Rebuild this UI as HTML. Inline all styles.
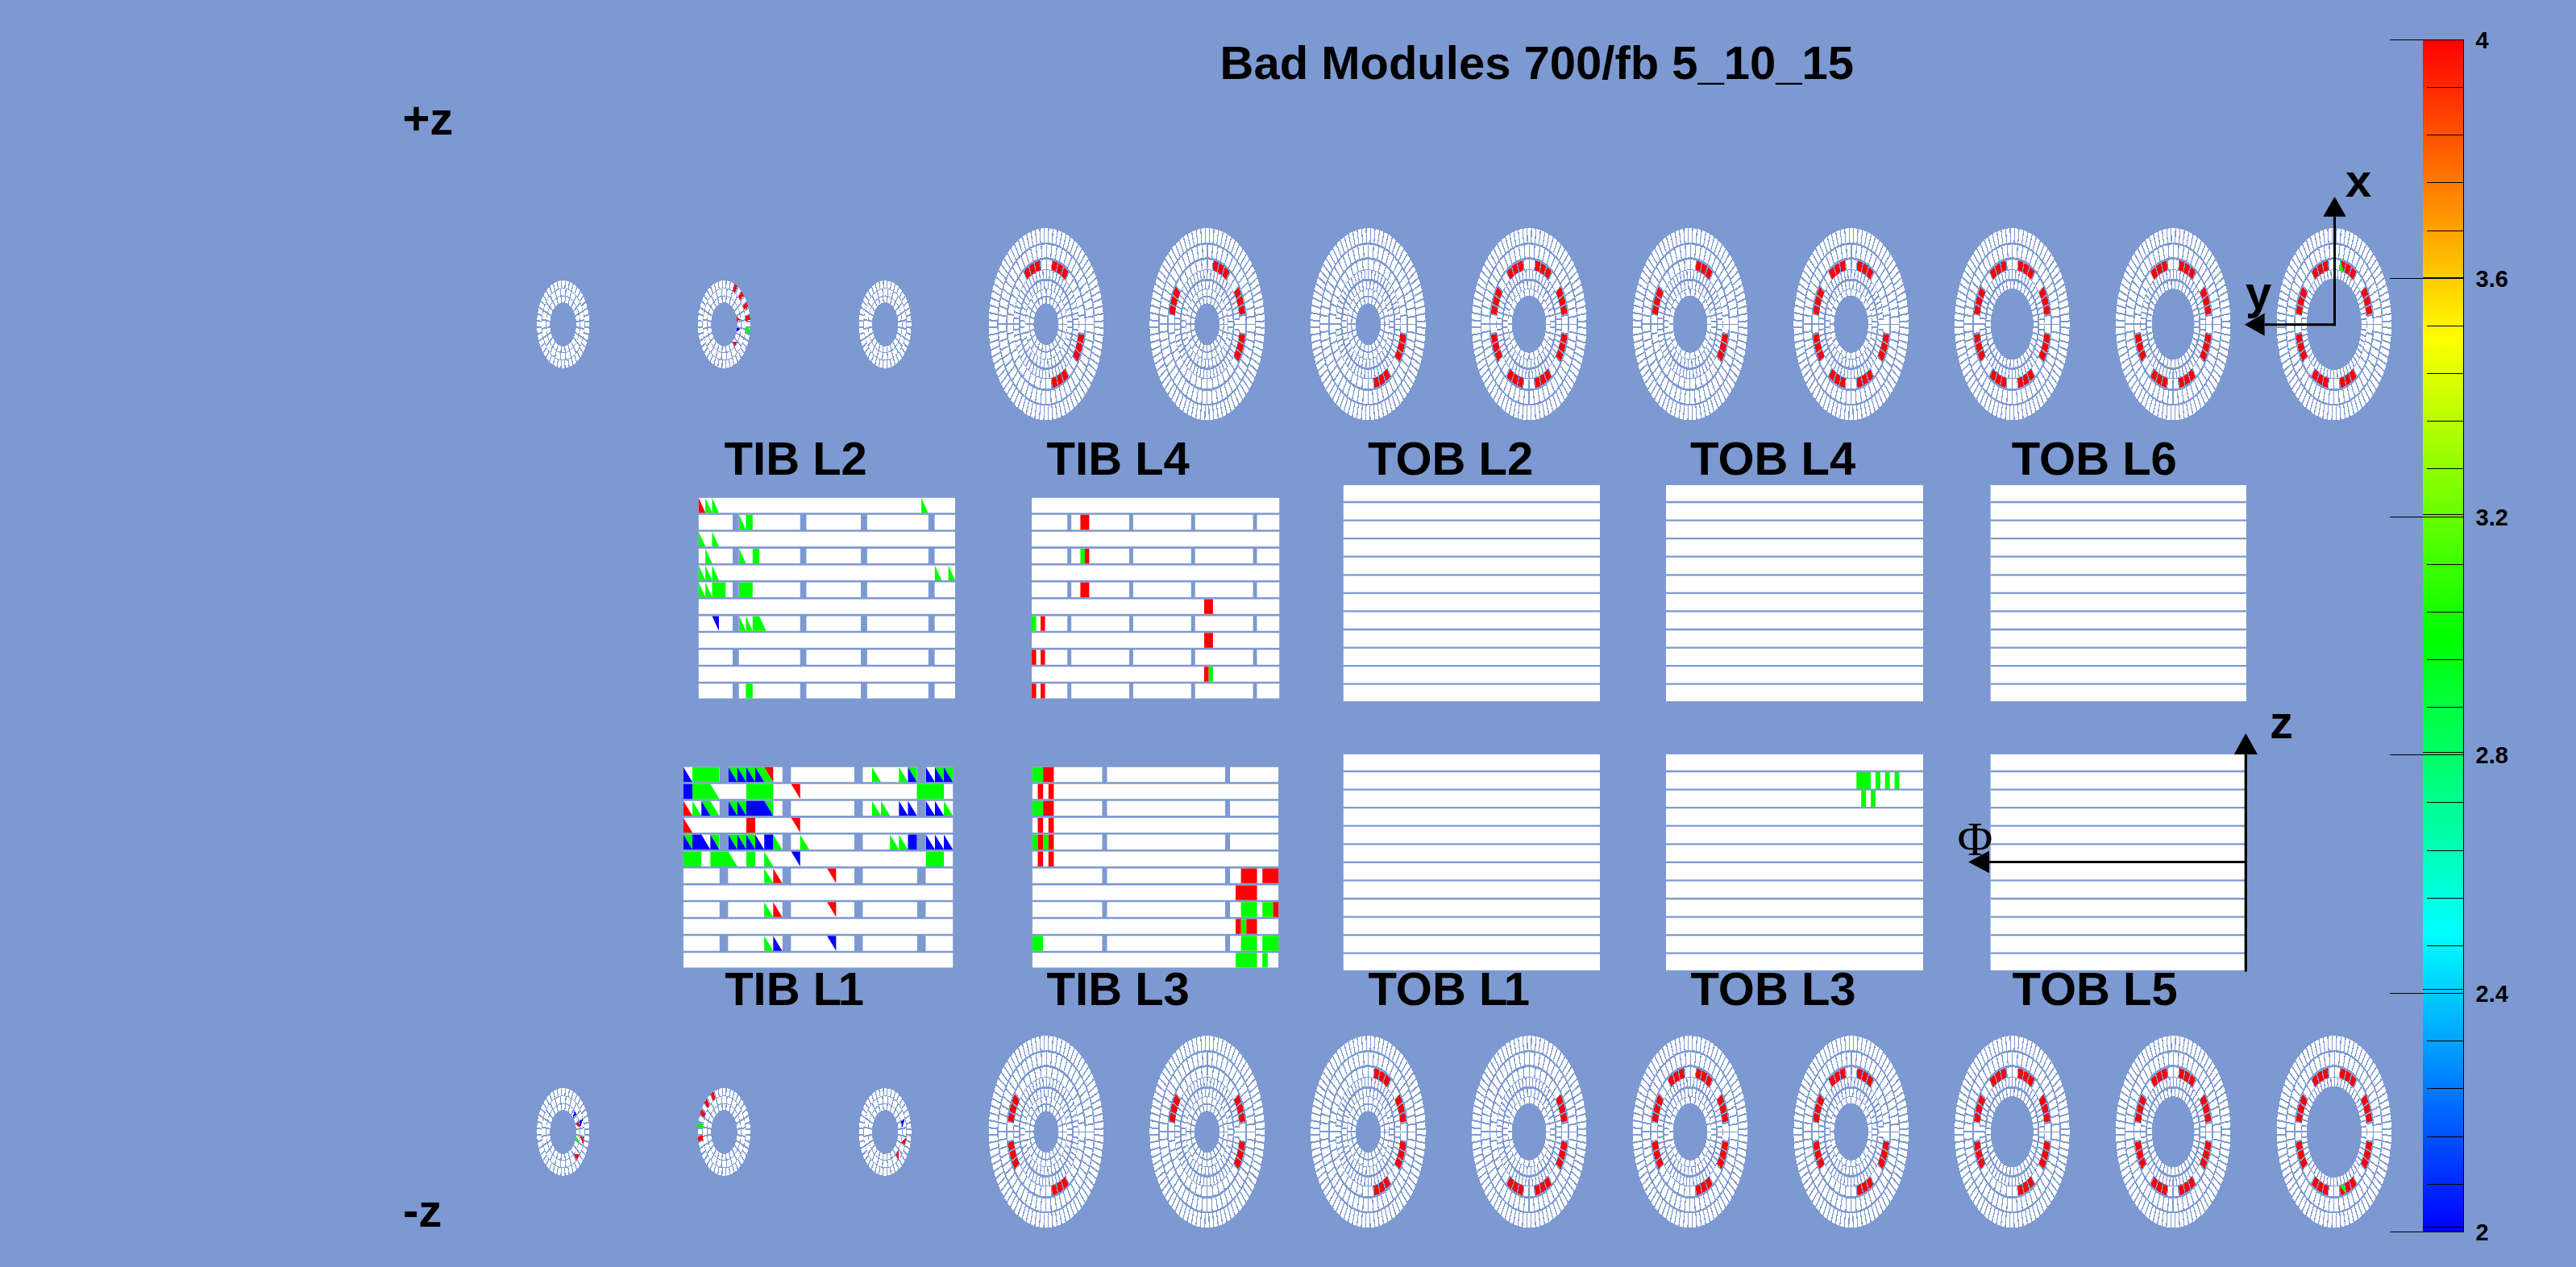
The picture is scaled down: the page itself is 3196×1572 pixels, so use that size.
<!DOCTYPE html>
<html><head><meta charset="utf-8"><title>Bad Modules 700/fb 5_10_15</title>
<style>html,body{margin:0;padding:0;background:#7d99d1;overflow:hidden}svg{display:block}text{font-family:"Liberation Sans",sans-serif;font-weight:bold;fill:#000}.s{font-family:"Liberation Serif",serif;font-weight:normal}.h{stroke:#74aaea;stroke-width:1.7;paint-order:stroke}</style></head><body>
<svg width="3196" height="1572" viewBox="0 0 3196 1572">
<defs><linearGradient id="pal" x1="0" y1="0" x2="0" y2="1"><stop offset="0" stop-color="#ff0000"/><stop offset="0.25" stop-color="#ffff00"/><stop offset="0.5" stop-color="#00ff00"/><stop offset="0.75" stop-color="#00ffff"/><stop offset="1" stop-color="#0000ff"/></linearGradient></defs>
<rect width="3196" height="1572" fill="#7d99d1"/>
<text x="1513.5" y="97.5" font-size="58">Bad Modules 700/fb 5_10_15</text>
<text x="499.4" y="166.8" font-size="58">+z</text>
<text x="500" y="1521.9" font-size="58">-z</text>
<text x="898.6" y="588.8" font-size="58">TIB L2</text>
<text x="1298.6" y="588.8" font-size="58">TIB L4</text>
<text x="1697" y="588.8" font-size="58">TOB L2</text>
<text x="2097" y="588.8" font-size="58">TOB L4</text>
<text x="2495.7" y="588.8" font-size="58">TOB L6</text>
<text x="899.2" y="1246.8" font-size="58">TIB L<tspan dx="-4.5">1</tspan></text>
<text x="1298.6" y="1246.8" font-size="58">TIB L3</text>
<text x="1697.4" y="1246.8" font-size="58">TOB L<tspan dx="-4.5">1</tspan></text>
<text x="2097.4" y="1246.8" font-size="58">TOB L3</text>
<text x="2496.6" y="1246.8" font-size="58">TOB L5</text>
<g transform="translate(1297.9 402.25) scale(0.598 1)" shape-rendering="crispEdges">
<g fill="none" stroke="#fff">
<circle r="29.7" stroke-width="7.6" stroke-dasharray="5.7754 2.0000" stroke-dashoffset="-1.0000"/>
<circle r="39.4" stroke-width="7.8" stroke-dasharray="8.3149 2.0000" stroke-dashoffset="-1.0000"/>
<circle r="48.9" stroke-width="9.6" stroke-dasharray="5.6812 2.0000" stroke-dashoffset="2.8406"/>
<circle r="61.9" stroke-width="10.4" stroke-dasharray="4.9452 2.0000" stroke-dashoffset="-1.0000"/>
<circle r="74.05" stroke-width="11.9" stroke-dasharray="9.6317 2.0000" stroke-dashoffset="-1.0000"/>
<circle r="90.85" stroke-width="15.9" stroke-dasharray="8.1933 2.0000" stroke-dashoffset="-1.0000"/>
<circle r="110.15" stroke-width="17.9" stroke-dasharray="6.6512 2.0000" stroke-dashoffset="3.3256"/>
</g>
<path fill="#7d99d1" d="M-12.86 -79.47L-24.96 -76.53L-36.47 -71.77L-47.1 -65.29L-39.55 -54.82L-30.62 -60.27L-20.96 -64.27L-10.8 -66.73Z"/>
<path fill="#ff0000" class="h" d="M-13.58 -78.84L-16.99 -78.18L-20.36 -77.37L-23.69 -76.41L-20.17 -65.05L-17.33 -65.86L-14.46 -66.55L-11.56 -67.11Z"/>
<path fill="#ff0000" class="h" d="M-25.75 -75.74L-29.01 -74.56L-32.21 -73.23L-35.35 -71.76L-30.09 -61.09L-27.42 -62.34L-24.69 -63.47L-21.92 -64.48Z"/>
<path fill="#ff0000" class="h" d="M-37.28 -70.78L-40.31 -69.1L-43.27 -67.29L-46.14 -65.35L-39.28 -55.63L-36.83 -57.28L-34.32 -58.82L-31.73 -60.25Z"/>
<path fill="#7d99d1" d="M47.1 -65.29L36.47 -71.77L24.96 -76.53L12.86 -79.47L10.8 -66.73L20.96 -64.27L30.62 -60.27L39.55 -54.82Z"/>
<path fill="#ff0000" class="h" d="M46.14 -65.35L43.27 -67.29L40.31 -69.1L37.28 -70.78L31.73 -60.25L34.32 -58.82L36.83 -57.28L39.28 -55.63Z"/>
<path fill="#ff0000" class="h" d="M35.35 -71.76L32.21 -73.23L29.01 -74.56L25.75 -75.74L21.92 -64.48L24.69 -63.47L27.42 -62.34L30.09 -61.09Z"/>
<path fill="#ff0000" class="h" d="M23.69 -76.41L20.36 -77.37L16.99 -78.18L13.58 -78.84L11.56 -67.11L14.46 -66.55L17.33 -65.86L20.17 -65.05Z"/>
<path fill="#7d99d1" d="M65.29 47.1L71.77 36.47L76.53 24.96L79.47 12.86L66.73 10.8L64.27 20.96L60.27 30.62L54.82 39.55Z"/>
<path fill="#ff0000" class="h" d="M65.35 46.14L67.29 43.27L69.1 40.31L70.78 37.28L60.25 31.73L58.82 34.32L57.28 36.83L55.63 39.28Z"/>
<path fill="#ff0000" class="h" d="M71.76 35.35L73.23 32.21L74.56 29.01L75.74 25.75L64.48 21.92L63.47 24.69L62.34 27.42L61.09 30.09Z"/>
<path fill="#ff0000" class="h" d="M76.41 23.69L77.37 20.36L78.18 16.99L78.84 13.58L67.11 11.56L66.55 14.46L65.86 17.33L65.05 20.17Z"/>
<path fill="#7d99d1" d="M12.86 79.47L24.96 76.53L36.47 71.77L47.1 65.29L39.55 54.82L30.62 60.27L20.96 64.27L10.8 66.73Z"/>
<path fill="#ff0000" class="h" d="M13.58 78.84L16.99 78.18L20.36 77.37L23.69 76.41L20.17 65.05L17.33 65.86L14.46 66.55L11.56 67.11Z"/>
<path fill="#ff0000" class="h" d="M25.75 75.74L29.01 74.56L32.21 73.23L35.35 71.76L30.09 61.09L27.42 62.34L24.69 63.47L21.92 64.48Z"/>
<path fill="#ff0000" class="h" d="M37.28 70.78L40.31 69.1L43.27 67.29L46.14 65.35L39.28 55.63L36.83 57.28L34.32 58.82L31.73 60.25Z"/>
</g>
<g transform="translate(1497.65 402.25) scale(0.598 1)" shape-rendering="crispEdges">
<g fill="none" stroke="#fff">
<circle r="29.7" stroke-width="7.6" stroke-dasharray="5.7754 2.0000" stroke-dashoffset="-1.0000"/>
<circle r="39.4" stroke-width="7.8" stroke-dasharray="8.3149 2.0000" stroke-dashoffset="-1.0000"/>
<circle r="48.9" stroke-width="9.6" stroke-dasharray="5.6812 2.0000" stroke-dashoffset="2.8406"/>
<circle r="61.9" stroke-width="10.4" stroke-dasharray="4.9452 2.0000" stroke-dashoffset="-1.0000"/>
<circle r="74.05" stroke-width="11.9" stroke-dasharray="9.6317 2.0000" stroke-dashoffset="-1.0000"/>
<circle r="90.85" stroke-width="15.9" stroke-dasharray="8.1933 2.0000" stroke-dashoffset="-1.0000"/>
<circle r="110.15" stroke-width="17.9" stroke-dasharray="6.6512 2.0000" stroke-dashoffset="3.3256"/>
</g>
<path fill="#7d99d1" d="M47.1 -65.29L36.47 -71.77L24.96 -76.53L12.86 -79.47L10.8 -66.73L20.96 -64.27L30.62 -60.27L39.55 -54.82Z"/>
<path fill="#ff0000" class="h" d="M46.14 -65.35L43.27 -67.29L40.31 -69.1L37.28 -70.78L31.73 -60.25L34.32 -58.82L36.83 -57.28L39.28 -55.63Z"/>
<path fill="#ff0000" class="h" d="M35.35 -71.76L32.21 -73.23L29.01 -74.56L25.75 -75.74L21.92 -64.48L24.69 -63.47L27.42 -62.34L30.09 -61.09Z"/>
<path fill="#ff0000" class="h" d="M23.69 -76.41L20.36 -77.37L16.99 -78.18L13.58 -78.84L11.56 -67.11L14.46 -66.55L17.33 -65.86L20.17 -65.05Z"/>
<path fill="#7d99d1" d="M-65.29 -47.1L-71.77 -36.47L-76.53 -24.96L-79.47 -12.86L-66.73 -10.8L-64.27 -20.96L-60.27 -30.62L-54.82 -39.55Z"/>
<path fill="#ff0000" class="h" d="M-65.35 -46.14L-67.29 -43.27L-69.1 -40.31L-70.78 -37.28L-60.25 -31.73L-58.82 -34.32L-57.28 -36.83L-55.63 -39.28Z"/>
<path fill="#ff0000" class="h" d="M-71.76 -35.35L-73.23 -32.21L-74.56 -29.01L-75.74 -25.75L-64.48 -21.92L-63.47 -24.69L-62.34 -27.42L-61.09 -30.09Z"/>
<path fill="#ff0000" class="h" d="M-76.41 -23.69L-77.37 -20.36L-78.18 -16.99L-78.84 -13.58L-67.11 -11.56L-66.55 -14.46L-65.86 -17.33L-65.05 -20.17Z"/>
<path fill="#7d99d1" d="M79.47 -12.86L76.53 -24.96L71.77 -36.47L65.29 -47.1L54.82 -39.55L60.27 -30.62L64.27 -20.96L66.73 -10.8Z"/>
<path fill="#ff0000" class="h" d="M78.84 -13.58L78.18 -16.99L77.37 -20.36L76.41 -23.69L65.05 -20.17L65.86 -17.33L66.55 -14.46L67.11 -11.56Z"/>
<path fill="#ff0000" class="h" d="M75.74 -25.75L74.56 -29.01L73.23 -32.21L71.76 -35.35L61.09 -30.09L62.34 -27.42L63.47 -24.69L64.48 -21.92Z"/>
<path fill="#ff0000" class="h" d="M70.78 -37.28L69.1 -40.31L67.29 -43.27L65.35 -46.14L55.63 -39.28L57.28 -36.83L58.82 -34.32L60.25 -31.73Z"/>
<path fill="#7d99d1" d="M65.29 47.1L71.77 36.47L76.53 24.96L79.47 12.86L66.73 10.8L64.27 20.96L60.27 30.62L54.82 39.55Z"/>
<path fill="#ff0000" class="h" d="M65.35 46.14L67.29 43.27L69.1 40.31L70.78 37.28L60.25 31.73L58.82 34.32L57.28 36.83L55.63 39.28Z"/>
<path fill="#ff0000" class="h" d="M71.76 35.35L73.23 32.21L74.56 29.01L75.74 25.75L64.48 21.92L63.47 24.69L62.34 27.42L61.09 30.09Z"/>
<path fill="#ff0000" class="h" d="M76.41 23.69L77.37 20.36L78.18 16.99L78.84 13.58L67.11 11.56L66.55 14.46L65.86 17.33L65.05 20.17Z"/>
</g>
<g transform="translate(1697.4 402.25) scale(0.598 1)" shape-rendering="crispEdges">
<g fill="none" stroke="#fff">
<circle r="29.7" stroke-width="7.6" stroke-dasharray="5.7754 2.0000" stroke-dashoffset="-1.0000"/>
<circle r="39.4" stroke-width="7.8" stroke-dasharray="8.3149 2.0000" stroke-dashoffset="-1.0000"/>
<circle r="48.9" stroke-width="9.6" stroke-dasharray="5.6812 2.0000" stroke-dashoffset="2.8406"/>
<circle r="61.9" stroke-width="10.4" stroke-dasharray="4.9452 2.0000" stroke-dashoffset="-1.0000"/>
<circle r="74.05" stroke-width="11.9" stroke-dasharray="9.6317 2.0000" stroke-dashoffset="-1.0000"/>
<circle r="90.85" stroke-width="15.9" stroke-dasharray="8.1933 2.0000" stroke-dashoffset="-1.0000"/>
<circle r="110.15" stroke-width="17.9" stroke-dasharray="6.6512 2.0000" stroke-dashoffset="3.3256"/>
</g>
<path fill="#7d99d1" d="M65.29 47.1L71.77 36.47L76.53 24.96L79.47 12.86L66.73 10.8L64.27 20.96L60.27 30.62L54.82 39.55Z"/>
<path fill="#ff0000" class="h" d="M65.35 46.14L67.29 43.27L69.1 40.31L70.78 37.28L60.25 31.73L58.82 34.32L57.28 36.83L55.63 39.28Z"/>
<path fill="#ff0000" class="h" d="M71.76 35.35L73.23 32.21L74.56 29.01L75.74 25.75L64.48 21.92L63.47 24.69L62.34 27.42L61.09 30.09Z"/>
<path fill="#ff0000" class="h" d="M76.41 23.69L77.37 20.36L78.18 16.99L78.84 13.58L67.11 11.56L66.55 14.46L65.86 17.33L65.05 20.17Z"/>
<path fill="#7d99d1" d="M12.86 79.47L24.96 76.53L36.47 71.77L47.1 65.29L39.55 54.82L30.62 60.27L20.96 64.27L10.8 66.73Z"/>
<path fill="#ff0000" class="h" d="M13.58 78.84L16.99 78.18L20.36 77.37L23.69 76.41L20.17 65.05L17.33 65.86L14.46 66.55L11.56 67.11Z"/>
<path fill="#ff0000" class="h" d="M25.75 75.74L29.01 74.56L32.21 73.23L35.35 71.76L30.09 61.09L27.42 62.34L24.69 63.47L21.92 64.48Z"/>
<path fill="#ff0000" class="h" d="M37.28 70.78L40.31 69.1L43.27 67.29L46.14 65.35L39.28 55.63L36.83 57.28L34.32 58.82L31.73 60.25Z"/>
</g>
<g transform="translate(1897.15 402.25) scale(0.598 1)" shape-rendering="crispEdges">
<g fill="none" stroke="#fff">
<circle r="39.4" stroke-width="7.8" stroke-dasharray="8.3149 2.0000" stroke-dashoffset="-1.0000"/>
<circle r="48.9" stroke-width="9.6" stroke-dasharray="5.6812 2.0000" stroke-dashoffset="2.8406"/>
<circle r="61.9" stroke-width="10.4" stroke-dasharray="4.9452 2.0000" stroke-dashoffset="-1.0000"/>
<circle r="74.05" stroke-width="11.9" stroke-dasharray="9.6317 2.0000" stroke-dashoffset="-1.0000"/>
<circle r="90.85" stroke-width="15.9" stroke-dasharray="8.1933 2.0000" stroke-dashoffset="-1.0000"/>
<circle r="110.15" stroke-width="17.9" stroke-dasharray="6.6512 2.0000" stroke-dashoffset="3.3256"/>
</g>
<path fill="#7d99d1" d="M79.47 -12.86L76.53 -24.96L71.77 -36.47L65.29 -47.1L54.82 -39.55L60.27 -30.62L64.27 -20.96L66.73 -10.8Z"/>
<path fill="#ff0000" class="h" d="M78.84 -13.58L78.18 -16.99L77.37 -20.36L76.41 -23.69L65.05 -20.17L65.86 -17.33L66.55 -14.46L67.11 -11.56Z"/>
<path fill="#ff0000" class="h" d="M75.74 -25.75L74.56 -29.01L73.23 -32.21L71.76 -35.35L61.09 -30.09L62.34 -27.42L63.47 -24.69L64.48 -21.92Z"/>
<path fill="#ff0000" class="h" d="M70.78 -37.28L69.1 -40.31L67.29 -43.27L65.35 -46.14L55.63 -39.28L57.28 -36.83L58.82 -34.32L60.25 -31.73Z"/>
<path fill="#7d99d1" d="M47.1 -65.29L36.47 -71.77L24.96 -76.53L12.86 -79.47L10.8 -66.73L20.96 -64.27L30.62 -60.27L39.55 -54.82Z"/>
<path fill="#ff0000" class="h" d="M46.14 -65.35L43.27 -67.29L40.31 -69.1L37.28 -70.78L31.73 -60.25L34.32 -58.82L36.83 -57.28L39.28 -55.63Z"/>
<path fill="#ff0000" class="h" d="M35.35 -71.76L32.21 -73.23L29.01 -74.56L25.75 -75.74L21.92 -64.48L24.69 -63.47L27.42 -62.34L30.09 -61.09Z"/>
<path fill="#ff0000" class="h" d="M23.69 -76.41L20.36 -77.37L16.99 -78.18L13.58 -78.84L11.56 -67.11L14.46 -66.55L17.33 -65.86L20.17 -65.05Z"/>
<path fill="#7d99d1" d="M-12.86 -79.47L-24.96 -76.53L-36.47 -71.77L-47.1 -65.29L-39.55 -54.82L-30.62 -60.27L-20.96 -64.27L-10.8 -66.73Z"/>
<path fill="#ff0000" class="h" d="M-13.58 -78.84L-16.99 -78.18L-20.36 -77.37L-23.69 -76.41L-20.17 -65.05L-17.33 -65.86L-14.46 -66.55L-11.56 -67.11Z"/>
<path fill="#ff0000" class="h" d="M-25.75 -75.74L-29.01 -74.56L-32.21 -73.23L-35.35 -71.76L-30.09 -61.09L-27.42 -62.34L-24.69 -63.47L-21.92 -64.48Z"/>
<path fill="#ff0000" class="h" d="M-37.28 -70.78L-40.31 -69.1L-43.27 -67.29L-46.14 -65.35L-39.28 -55.63L-36.83 -57.28L-34.32 -58.82L-31.73 -60.25Z"/>
<path fill="#7d99d1" d="M-65.29 -47.1L-71.77 -36.47L-76.53 -24.96L-79.47 -12.86L-66.73 -10.8L-64.27 -20.96L-60.27 -30.62L-54.82 -39.55Z"/>
<path fill="#ff0000" class="h" d="M-65.35 -46.14L-67.29 -43.27L-69.1 -40.31L-70.78 -37.28L-60.25 -31.73L-58.82 -34.32L-57.28 -36.83L-55.63 -39.28Z"/>
<path fill="#ff0000" class="h" d="M-71.76 -35.35L-73.23 -32.21L-74.56 -29.01L-75.74 -25.75L-64.48 -21.92L-63.47 -24.69L-62.34 -27.42L-61.09 -30.09Z"/>
<path fill="#ff0000" class="h" d="M-76.41 -23.69L-77.37 -20.36L-78.18 -16.99L-78.84 -13.58L-67.11 -11.56L-66.55 -14.46L-65.86 -17.33L-65.05 -20.17Z"/>
<path fill="#7d99d1" d="M-79.47 12.86L-76.53 24.96L-71.77 36.47L-65.29 47.1L-54.82 39.55L-60.27 30.62L-64.27 20.96L-66.73 10.8Z"/>
<path fill="#ff0000" class="h" d="M-78.84 13.58L-78.18 16.99L-77.37 20.36L-76.41 23.69L-65.05 20.17L-65.86 17.33L-66.55 14.46L-67.11 11.56Z"/>
<path fill="#ff0000" class="h" d="M-75.74 25.75L-74.56 29.01L-73.23 32.21L-71.76 35.35L-61.09 30.09L-62.34 27.42L-63.47 24.69L-64.48 21.92Z"/>
<path fill="#ff0000" class="h" d="M-70.78 37.28L-69.1 40.31L-67.29 43.27L-65.35 46.14L-55.63 39.28L-57.28 36.83L-58.82 34.32L-60.25 31.73Z"/>
<path fill="#7d99d1" d="M-47.1 65.29L-36.47 71.77L-24.96 76.53L-12.86 79.47L-10.8 66.73L-20.96 64.27L-30.62 60.27L-39.55 54.82Z"/>
<path fill="#ff0000" class="h" d="M-46.14 65.35L-43.27 67.29L-40.31 69.1L-37.28 70.78L-31.73 60.25L-34.32 58.82L-36.83 57.28L-39.28 55.63Z"/>
<path fill="#ff0000" class="h" d="M-35.35 71.76L-32.21 73.23L-29.01 74.56L-25.75 75.74L-21.92 64.48L-24.69 63.47L-27.42 62.34L-30.09 61.09Z"/>
<path fill="#ff0000" class="h" d="M-23.69 76.41L-20.36 77.37L-16.99 78.18L-13.58 78.84L-11.56 67.11L-14.46 66.55L-17.33 65.86L-20.17 65.05Z"/>
<path fill="#7d99d1" d="M12.86 79.47L24.96 76.53L36.47 71.77L47.1 65.29L39.55 54.82L30.62 60.27L20.96 64.27L10.8 66.73Z"/>
<path fill="#ff0000" class="h" d="M13.58 78.84L16.99 78.18L20.36 77.37L23.69 76.41L20.17 65.05L17.33 65.86L14.46 66.55L11.56 67.11Z"/>
<path fill="#ff0000" class="h" d="M25.75 75.74L29.01 74.56L32.21 73.23L35.35 71.76L30.09 61.09L27.42 62.34L24.69 63.47L21.92 64.48Z"/>
<path fill="#ff0000" class="h" d="M37.28 70.78L40.31 69.1L43.27 67.29L46.14 65.35L39.28 55.63L36.83 57.28L34.32 58.82L31.73 60.25Z"/>
<path fill="#7d99d1" d="M65.29 47.1L71.77 36.47L76.53 24.96L79.47 12.86L66.73 10.8L64.27 20.96L60.27 30.62L54.82 39.55Z"/>
<path fill="#ff0000" class="h" d="M65.35 46.14L67.29 43.27L69.1 40.31L70.78 37.28L60.25 31.73L58.82 34.32L57.28 36.83L55.63 39.28Z"/>
<path fill="#ff0000" class="h" d="M71.76 35.35L73.23 32.21L74.56 29.01L75.74 25.75L64.48 21.92L63.47 24.69L62.34 27.42L61.09 30.09Z"/>
<path fill="#ff0000" class="h" d="M76.41 23.69L77.37 20.36L78.18 16.99L78.84 13.58L67.11 11.56L66.55 14.46L65.86 17.33L65.05 20.17Z"/>
</g>
<g transform="translate(2096.9 402.25) scale(0.598 1)" shape-rendering="crispEdges">
<g fill="none" stroke="#fff">
<circle r="39.4" stroke-width="7.8" stroke-dasharray="8.3149 2.0000" stroke-dashoffset="-1.0000"/>
<circle r="48.9" stroke-width="9.6" stroke-dasharray="5.6812 2.0000" stroke-dashoffset="2.8406"/>
<circle r="61.9" stroke-width="10.4" stroke-dasharray="4.9452 2.0000" stroke-dashoffset="-1.0000"/>
<circle r="74.05" stroke-width="11.9" stroke-dasharray="9.6317 2.0000" stroke-dashoffset="-1.0000"/>
<circle r="90.85" stroke-width="15.9" stroke-dasharray="8.1933 2.0000" stroke-dashoffset="-1.0000"/>
<circle r="110.15" stroke-width="17.9" stroke-dasharray="6.6512 2.0000" stroke-dashoffset="3.3256"/>
</g>
<path fill="#7d99d1" d="M47.1 -65.29L36.47 -71.77L24.96 -76.53L12.86 -79.47L10.8 -66.73L20.96 -64.27L30.62 -60.27L39.55 -54.82Z"/>
<path fill="#ff0000" class="h" d="M46.14 -65.35L43.27 -67.29L40.31 -69.1L37.28 -70.78L31.73 -60.25L34.32 -58.82L36.83 -57.28L39.28 -55.63Z"/>
<path fill="#ff0000" class="h" d="M35.35 -71.76L32.21 -73.23L29.01 -74.56L25.75 -75.74L21.92 -64.48L24.69 -63.47L27.42 -62.34L30.09 -61.09Z"/>
<path fill="#ff0000" class="h" d="M23.69 -76.41L20.36 -77.37L16.99 -78.18L13.58 -78.84L11.56 -67.11L14.46 -66.55L17.33 -65.86L20.17 -65.05Z"/>
<path fill="#7d99d1" d="M-65.29 -47.1L-71.77 -36.47L-76.53 -24.96L-79.47 -12.86L-66.73 -10.8L-64.27 -20.96L-60.27 -30.62L-54.82 -39.55Z"/>
<path fill="#ff0000" class="h" d="M-65.35 -46.14L-67.29 -43.27L-69.1 -40.31L-70.78 -37.28L-60.25 -31.73L-58.82 -34.32L-57.28 -36.83L-55.63 -39.28Z"/>
<path fill="#ff0000" class="h" d="M-71.76 -35.35L-73.23 -32.21L-74.56 -29.01L-75.74 -25.75L-64.48 -21.92L-63.47 -24.69L-62.34 -27.42L-61.09 -30.09Z"/>
<path fill="#ff0000" class="h" d="M-76.41 -23.69L-77.37 -20.36L-78.18 -16.99L-78.84 -13.58L-67.11 -11.56L-66.55 -14.46L-65.86 -17.33L-65.05 -20.17Z"/>
<path fill="#7d99d1" d="M65.29 47.1L71.77 36.47L76.53 24.96L79.47 12.86L66.73 10.8L64.27 20.96L60.27 30.62L54.82 39.55Z"/>
<path fill="#ff0000" class="h" d="M65.35 46.14L67.29 43.27L69.1 40.31L70.78 37.28L60.25 31.73L58.82 34.32L57.28 36.83L55.63 39.28Z"/>
<path fill="#ff0000" class="h" d="M71.76 35.35L73.23 32.21L74.56 29.01L75.74 25.75L64.48 21.92L63.47 24.69L62.34 27.42L61.09 30.09Z"/>
<path fill="#ff0000" class="h" d="M76.41 23.69L77.37 20.36L78.18 16.99L78.84 13.58L67.11 11.56L66.55 14.46L65.86 17.33L65.05 20.17Z"/>
</g>
<g transform="translate(2296.65 402.25) scale(0.598 1)" shape-rendering="crispEdges">
<g fill="none" stroke="#fff">
<circle r="39.4" stroke-width="7.8" stroke-dasharray="8.3149 2.0000" stroke-dashoffset="-1.0000"/>
<circle r="48.9" stroke-width="9.6" stroke-dasharray="5.6812 2.0000" stroke-dashoffset="2.8406"/>
<circle r="61.9" stroke-width="10.4" stroke-dasharray="4.9452 2.0000" stroke-dashoffset="-1.0000"/>
<circle r="74.05" stroke-width="11.9" stroke-dasharray="9.6317 2.0000" stroke-dashoffset="-1.0000"/>
<circle r="90.85" stroke-width="15.9" stroke-dasharray="8.1933 2.0000" stroke-dashoffset="-1.0000"/>
<circle r="110.15" stroke-width="17.9" stroke-dasharray="6.6512 2.0000" stroke-dashoffset="3.3256"/>
</g>
<path fill="#7d99d1" d="M-12.86 -79.47L-24.96 -76.53L-36.47 -71.77L-47.1 -65.29L-39.55 -54.82L-30.62 -60.27L-20.96 -64.27L-10.8 -66.73Z"/>
<path fill="#ff0000" class="h" d="M-13.58 -78.84L-16.99 -78.18L-20.36 -77.37L-23.69 -76.41L-20.17 -65.05L-17.33 -65.86L-14.46 -66.55L-11.56 -67.11Z"/>
<path fill="#ff0000" class="h" d="M-25.75 -75.74L-29.01 -74.56L-32.21 -73.23L-35.35 -71.76L-30.09 -61.09L-27.42 -62.34L-24.69 -63.47L-21.92 -64.48Z"/>
<path fill="#ff0000" class="h" d="M-37.28 -70.78L-40.31 -69.1L-43.27 -67.29L-46.14 -65.35L-39.28 -55.63L-36.83 -57.28L-34.32 -58.82L-31.73 -60.25Z"/>
<path fill="#7d99d1" d="M47.1 -65.29L36.47 -71.77L24.96 -76.53L12.86 -79.47L10.8 -66.73L20.96 -64.27L30.62 -60.27L39.55 -54.82Z"/>
<path fill="#ff0000" class="h" d="M46.14 -65.35L43.27 -67.29L40.31 -69.1L37.28 -70.78L31.73 -60.25L34.32 -58.82L36.83 -57.28L39.28 -55.63Z"/>
<path fill="#ff0000" class="h" d="M35.35 -71.76L32.21 -73.23L29.01 -74.56L25.75 -75.74L21.92 -64.48L24.69 -63.47L27.42 -62.34L30.09 -61.09Z"/>
<path fill="#ff0000" class="h" d="M23.69 -76.41L20.36 -77.37L16.99 -78.18L13.58 -78.84L11.56 -67.11L14.46 -66.55L17.33 -65.86L20.17 -65.05Z"/>
<path fill="#7d99d1" d="M-65.29 -47.1L-71.77 -36.47L-76.53 -24.96L-79.47 -12.86L-66.73 -10.8L-64.27 -20.96L-60.27 -30.62L-54.82 -39.55Z"/>
<path fill="#ff0000" class="h" d="M-65.35 -46.14L-67.29 -43.27L-69.1 -40.31L-70.78 -37.28L-60.25 -31.73L-58.82 -34.32L-57.28 -36.83L-55.63 -39.28Z"/>
<path fill="#ff0000" class="h" d="M-71.76 -35.35L-73.23 -32.21L-74.56 -29.01L-75.74 -25.75L-64.48 -21.92L-63.47 -24.69L-62.34 -27.42L-61.09 -30.09Z"/>
<path fill="#ff0000" class="h" d="M-76.41 -23.69L-77.37 -20.36L-78.18 -16.99L-78.84 -13.58L-67.11 -11.56L-66.55 -14.46L-65.86 -17.33L-65.05 -20.17Z"/>
<path fill="#7d99d1" d="M-79.47 12.86L-76.53 24.96L-71.77 36.47L-65.29 47.1L-54.82 39.55L-60.27 30.62L-64.27 20.96L-66.73 10.8Z"/>
<path fill="#ff0000" class="h" d="M-78.84 13.58L-78.18 16.99L-77.37 20.36L-76.41 23.69L-65.05 20.17L-65.86 17.33L-66.55 14.46L-67.11 11.56Z"/>
<path fill="#ff0000" class="h" d="M-75.74 25.75L-74.56 29.01L-73.23 32.21L-71.76 35.35L-61.09 30.09L-62.34 27.42L-63.47 24.69L-64.48 21.92Z"/>
<path fill="#ff0000" class="h" d="M-70.78 37.28L-69.1 40.31L-67.29 43.27L-65.35 46.14L-55.63 39.28L-57.28 36.83L-58.82 34.32L-60.25 31.73Z"/>
<path fill="#7d99d1" d="M65.29 47.1L71.77 36.47L76.53 24.96L79.47 12.86L66.73 10.8L64.27 20.96L60.27 30.62L54.82 39.55Z"/>
<path fill="#ff0000" class="h" d="M65.35 46.14L67.29 43.27L69.1 40.31L70.78 37.28L60.25 31.73L58.82 34.32L57.28 36.83L55.63 39.28Z"/>
<path fill="#ff0000" class="h" d="M71.76 35.35L73.23 32.21L74.56 29.01L75.74 25.75L64.48 21.92L63.47 24.69L62.34 27.42L61.09 30.09Z"/>
<path fill="#ff0000" class="h" d="M76.41 23.69L77.37 20.36L78.18 16.99L78.84 13.58L67.11 11.56L66.55 14.46L65.86 17.33L65.05 20.17Z"/>
<path fill="#7d99d1" d="M-47.1 65.29L-36.47 71.77L-24.96 76.53L-12.86 79.47L-10.8 66.73L-20.96 64.27L-30.62 60.27L-39.55 54.82Z"/>
<path fill="#ff0000" class="h" d="M-46.14 65.35L-43.27 67.29L-40.31 69.1L-37.28 70.78L-31.73 60.25L-34.32 58.82L-36.83 57.28L-39.28 55.63Z"/>
<path fill="#ff0000" class="h" d="M-35.35 71.76L-32.21 73.23L-29.01 74.56L-25.75 75.74L-21.92 64.48L-24.69 63.47L-27.42 62.34L-30.09 61.09Z"/>
<path fill="#ff0000" class="h" d="M-23.69 76.41L-20.36 77.37L-16.99 78.18L-13.58 78.84L-11.56 67.11L-14.46 66.55L-17.33 65.86L-20.17 65.05Z"/>
<path fill="#7d99d1" d="M12.86 79.47L24.96 76.53L36.47 71.77L47.1 65.29L39.55 54.82L30.62 60.27L20.96 64.27L10.8 66.73Z"/>
<path fill="#ff0000" class="h" d="M13.58 78.84L16.99 78.18L20.36 77.37L23.69 76.41L20.17 65.05L17.33 65.86L14.46 66.55L11.56 67.11Z"/>
<path fill="#ff0000" class="h" d="M25.75 75.74L29.01 74.56L32.21 73.23L35.35 71.76L30.09 61.09L27.42 62.34L24.69 63.47L21.92 64.48Z"/>
<path fill="#ff0000" class="h" d="M37.28 70.78L40.31 69.1L43.27 67.29L46.14 65.35L39.28 55.63L36.83 57.28L34.32 58.82L31.73 60.25Z"/>
</g>
<g transform="translate(2496.4 402.25) scale(0.598 1)" shape-rendering="crispEdges">
<g fill="none" stroke="#fff">
<circle r="48.9" stroke-width="9.6" stroke-dasharray="5.6812 2.0000" stroke-dashoffset="2.8406"/>
<circle r="61.9" stroke-width="10.4" stroke-dasharray="4.9452 2.0000" stroke-dashoffset="-1.0000"/>
<circle r="74.05" stroke-width="11.9" stroke-dasharray="9.6317 2.0000" stroke-dashoffset="-1.0000"/>
<circle r="90.85" stroke-width="15.9" stroke-dasharray="8.1933 2.0000" stroke-dashoffset="-1.0000"/>
<circle r="110.15" stroke-width="17.9" stroke-dasharray="6.6512 2.0000" stroke-dashoffset="3.3256"/>
</g>
<path fill="#7d99d1" d="M79.47 -12.86L76.53 -24.96L71.77 -36.47L65.29 -47.1L54.82 -39.55L60.27 -30.62L64.27 -20.96L66.73 -10.8Z"/>
<path fill="#ff0000" class="h" d="M78.84 -13.58L78.18 -16.99L77.37 -20.36L76.41 -23.69L65.05 -20.17L65.86 -17.33L66.55 -14.46L67.11 -11.56Z"/>
<path fill="#ff0000" class="h" d="M75.74 -25.75L74.56 -29.01L73.23 -32.21L71.76 -35.35L61.09 -30.09L62.34 -27.42L63.47 -24.69L64.48 -21.92Z"/>
<path fill="#ff0000" class="h" d="M70.78 -37.28L69.1 -40.31L67.29 -43.27L65.35 -46.14L55.63 -39.28L57.28 -36.83L58.82 -34.32L60.25 -31.73Z"/>
<path fill="#7d99d1" d="M47.1 -65.29L36.47 -71.77L24.96 -76.53L12.86 -79.47L10.8 -66.73L20.96 -64.27L30.62 -60.27L39.55 -54.82Z"/>
<path fill="#ff0000" class="h" d="M46.14 -65.35L43.27 -67.29L40.31 -69.1L37.28 -70.78L31.73 -60.25L34.32 -58.82L36.83 -57.28L39.28 -55.63Z"/>
<path fill="#ff0000" class="h" d="M35.35 -71.76L32.21 -73.23L29.01 -74.56L25.75 -75.74L21.92 -64.48L24.69 -63.47L27.42 -62.34L30.09 -61.09Z"/>
<path fill="#ff0000" class="h" d="M23.69 -76.41L20.36 -77.37L16.99 -78.18L13.58 -78.84L11.56 -67.11L14.46 -66.55L17.33 -65.86L20.17 -65.05Z"/>
<path fill="#7d99d1" d="M-12.86 -79.47L-24.96 -76.53L-36.47 -71.77L-47.1 -65.29L-39.55 -54.82L-30.62 -60.27L-20.96 -64.27L-10.8 -66.73Z"/>
<path fill="#ff0000" class="h" d="M-13.58 -78.84L-16.99 -78.18L-20.36 -77.37L-23.69 -76.41L-20.17 -65.05L-17.33 -65.86L-14.46 -66.55L-11.56 -67.11Z"/>
<path fill="#ff0000" class="h" d="M-25.75 -75.74L-29.01 -74.56L-32.21 -73.23L-35.35 -71.76L-30.09 -61.09L-27.42 -62.34L-24.69 -63.47L-21.92 -64.48Z"/>
<path fill="#ff0000" class="h" d="M-37.28 -70.78L-40.31 -69.1L-43.27 -67.29L-46.14 -65.35L-39.28 -55.63L-36.83 -57.28L-34.32 -58.82L-31.73 -60.25Z"/>
<path fill="#7d99d1" d="M-65.29 -47.1L-71.77 -36.47L-76.53 -24.96L-79.47 -12.86L-66.73 -10.8L-64.27 -20.96L-60.27 -30.62L-54.82 -39.55Z"/>
<path fill="#ff0000" class="h" d="M-65.35 -46.14L-67.29 -43.27L-69.1 -40.31L-70.78 -37.28L-60.25 -31.73L-58.82 -34.32L-57.28 -36.83L-55.63 -39.28Z"/>
<path fill="#ff0000" class="h" d="M-71.76 -35.35L-73.23 -32.21L-74.56 -29.01L-75.74 -25.75L-64.48 -21.92L-63.47 -24.69L-62.34 -27.42L-61.09 -30.09Z"/>
<path fill="#ff0000" class="h" d="M-76.41 -23.69L-77.37 -20.36L-78.18 -16.99L-78.84 -13.58L-67.11 -11.56L-66.55 -14.46L-65.86 -17.33L-65.05 -20.17Z"/>
<path fill="#7d99d1" d="M-79.47 12.86L-76.53 24.96L-71.77 36.47L-65.29 47.1L-54.82 39.55L-60.27 30.62L-64.27 20.96L-66.73 10.8Z"/>
<path fill="#ff0000" class="h" d="M-78.84 13.58L-78.18 16.99L-77.37 20.36L-76.41 23.69L-65.05 20.17L-65.86 17.33L-66.55 14.46L-67.11 11.56Z"/>
<path fill="#ff0000" class="h" d="M-75.74 25.75L-74.56 29.01L-73.23 32.21L-71.76 35.35L-61.09 30.09L-62.34 27.42L-63.47 24.69L-64.48 21.92Z"/>
<path fill="#ff0000" class="h" d="M-70.78 37.28L-69.1 40.31L-67.29 43.27L-65.35 46.14L-55.63 39.28L-57.28 36.83L-58.82 34.32L-60.25 31.73Z"/>
<path fill="#7d99d1" d="M-47.1 65.29L-36.47 71.77L-24.96 76.53L-12.86 79.47L-10.8 66.73L-20.96 64.27L-30.62 60.27L-39.55 54.82Z"/>
<path fill="#ff0000" class="h" d="M-46.14 65.35L-43.27 67.29L-40.31 69.1L-37.28 70.78L-31.73 60.25L-34.32 58.82L-36.83 57.28L-39.28 55.63Z"/>
<path fill="#ff0000" class="h" d="M-35.35 71.76L-32.21 73.23L-29.01 74.56L-25.75 75.74L-21.92 64.48L-24.69 63.47L-27.42 62.34L-30.09 61.09Z"/>
<path fill="#ff0000" class="h" d="M-23.69 76.41L-20.36 77.37L-16.99 78.18L-13.58 78.84L-11.56 67.11L-14.46 66.55L-17.33 65.86L-20.17 65.05Z"/>
<path fill="#7d99d1" d="M12.86 79.47L24.96 76.53L36.47 71.77L47.1 65.29L39.55 54.82L30.62 60.27L20.96 64.27L10.8 66.73Z"/>
<path fill="#ff0000" class="h" d="M13.58 78.84L16.99 78.18L20.36 77.37L23.69 76.41L20.17 65.05L17.33 65.86L14.46 66.55L11.56 67.11Z"/>
<path fill="#ff0000" class="h" d="M25.75 75.74L29.01 74.56L32.21 73.23L35.35 71.76L30.09 61.09L27.42 62.34L24.69 63.47L21.92 64.48Z"/>
<path fill="#ff0000" class="h" d="M37.28 70.78L40.31 69.1L43.27 67.29L46.14 65.35L39.28 55.63L36.83 57.28L34.32 58.82L31.73 60.25Z"/>
<path fill="#7d99d1" d="M65.29 47.1L71.77 36.47L76.53 24.96L79.47 12.86L66.73 10.8L64.27 20.96L60.27 30.62L54.82 39.55Z"/>
<path fill="#ff0000" class="h" d="M65.35 46.14L67.29 43.27L69.1 40.31L70.78 37.28L60.25 31.73L58.82 34.32L57.28 36.83L55.63 39.28Z"/>
<path fill="#ff0000" class="h" d="M71.76 35.35L73.23 32.21L74.56 29.01L75.74 25.75L64.48 21.92L63.47 24.69L62.34 27.42L61.09 30.09Z"/>
<path fill="#ff0000" class="h" d="M76.41 23.69L77.37 20.36L78.18 16.99L78.84 13.58L67.11 11.56L66.55 14.46L65.86 17.33L65.05 20.17Z"/>
</g>
<g transform="translate(2696.15 402.25) scale(0.598 1)" shape-rendering="crispEdges">
<g fill="none" stroke="#fff">
<circle r="48.9" stroke-width="9.6" stroke-dasharray="5.6812 2.0000" stroke-dashoffset="2.8406"/>
<circle r="61.9" stroke-width="10.4" stroke-dasharray="4.9452 2.0000" stroke-dashoffset="-1.0000"/>
<circle r="74.05" stroke-width="11.9" stroke-dasharray="9.6317 2.0000" stroke-dashoffset="-1.0000"/>
<circle r="90.85" stroke-width="15.9" stroke-dasharray="8.1933 2.0000" stroke-dashoffset="-1.0000"/>
<circle r="110.15" stroke-width="17.9" stroke-dasharray="6.6512 2.0000" stroke-dashoffset="3.3256"/>
</g>
<path fill="#7d99d1" d="M-12.86 -79.47L-24.96 -76.53L-36.47 -71.77L-47.1 -65.29L-39.55 -54.82L-30.62 -60.27L-20.96 -64.27L-10.8 -66.73Z"/>
<path fill="#ff0000" class="h" d="M-13.58 -78.84L-16.99 -78.18L-20.36 -77.37L-23.69 -76.41L-20.17 -65.05L-17.33 -65.86L-14.46 -66.55L-11.56 -67.11Z"/>
<path fill="#ff0000" class="h" d="M-25.75 -75.74L-29.01 -74.56L-32.21 -73.23L-35.35 -71.76L-30.09 -61.09L-27.42 -62.34L-24.69 -63.47L-21.92 -64.48Z"/>
<path fill="#ff0000" class="h" d="M-37.28 -70.78L-40.31 -69.1L-43.27 -67.29L-46.14 -65.35L-39.28 -55.63L-36.83 -57.28L-34.32 -58.82L-31.73 -60.25Z"/>
<path fill="#7d99d1" d="M47.1 -65.29L36.47 -71.77L24.96 -76.53L12.86 -79.47L10.8 -66.73L20.96 -64.27L30.62 -60.27L39.55 -54.82Z"/>
<path fill="#ff0000" class="h" d="M46.14 -65.35L43.27 -67.29L40.31 -69.1L37.28 -70.78L31.73 -60.25L34.32 -58.82L36.83 -57.28L39.28 -55.63Z"/>
<path fill="#ff0000" class="h" d="M35.35 -71.76L32.21 -73.23L29.01 -74.56L25.75 -75.74L21.92 -64.48L24.69 -63.47L27.42 -62.34L30.09 -61.09Z"/>
<path fill="#ff0000" class="h" d="M23.69 -76.41L20.36 -77.37L16.99 -78.18L13.58 -78.84L11.56 -67.11L14.46 -66.55L17.33 -65.86L20.17 -65.05Z"/>
<path fill="#7d99d1" d="M79.47 -12.86L76.53 -24.96L71.77 -36.47L65.29 -47.1L54.82 -39.55L60.27 -30.62L64.27 -20.96L66.73 -10.8Z"/>
<path fill="#ff0000" class="h" d="M78.84 -13.58L78.18 -16.99L77.37 -20.36L76.41 -23.69L65.05 -20.17L65.86 -17.33L66.55 -14.46L67.11 -11.56Z"/>
<path fill="#ff0000" class="h" d="M75.74 -25.75L74.56 -29.01L73.23 -32.21L71.76 -35.35L61.09 -30.09L62.34 -27.42L63.47 -24.69L64.48 -21.92Z"/>
<path fill="#ff0000" class="h" d="M70.78 -37.28L69.1 -40.31L67.29 -43.27L65.35 -46.14L55.63 -39.28L57.28 -36.83L58.82 -34.32L60.25 -31.73Z"/>
<path fill="#7d99d1" d="M65.29 47.1L71.77 36.47L76.53 24.96L79.47 12.86L66.73 10.8L64.27 20.96L60.27 30.62L54.82 39.55Z"/>
<path fill="#ff0000" class="h" d="M65.35 46.14L67.29 43.27L69.1 40.31L70.78 37.28L60.25 31.73L58.82 34.32L57.28 36.83L55.63 39.28Z"/>
<path fill="#ff0000" class="h" d="M71.76 35.35L73.23 32.21L74.56 29.01L75.74 25.75L64.48 21.92L63.47 24.69L62.34 27.42L61.09 30.09Z"/>
<path fill="#ff0000" class="h" d="M76.41 23.69L77.37 20.36L78.18 16.99L78.84 13.58L67.11 11.56L66.55 14.46L65.86 17.33L65.05 20.17Z"/>
<path fill="#7d99d1" d="M-79.47 12.86L-76.53 24.96L-71.77 36.47L-65.29 47.1L-54.82 39.55L-60.27 30.62L-64.27 20.96L-66.73 10.8Z"/>
<path fill="#ff0000" class="h" d="M-78.84 13.58L-78.18 16.99L-77.37 20.36L-76.41 23.69L-65.05 20.17L-65.86 17.33L-66.55 14.46L-67.11 11.56Z"/>
<path fill="#ff0000" class="h" d="M-75.74 25.75L-74.56 29.01L-73.23 32.21L-71.76 35.35L-61.09 30.09L-62.34 27.42L-63.47 24.69L-64.48 21.92Z"/>
<path fill="#ff0000" class="h" d="M-70.78 37.28L-69.1 40.31L-67.29 43.27L-65.35 46.14L-55.63 39.28L-57.28 36.83L-58.82 34.32L-60.25 31.73Z"/>
<path fill="#7d99d1" d="M-47.1 65.29L-36.47 71.77L-24.96 76.53L-12.86 79.47L-10.8 66.73L-20.96 64.27L-30.62 60.27L-39.55 54.82Z"/>
<path fill="#ff0000" class="h" d="M-46.14 65.35L-43.27 67.29L-40.31 69.1L-37.28 70.78L-31.73 60.25L-34.32 58.82L-36.83 57.28L-39.28 55.63Z"/>
<path fill="#ff0000" class="h" d="M-35.35 71.76L-32.21 73.23L-29.01 74.56L-25.75 75.74L-21.92 64.48L-24.69 63.47L-27.42 62.34L-30.09 61.09Z"/>
<path fill="#ff0000" class="h" d="M-23.69 76.41L-20.36 77.37L-16.99 78.18L-13.58 78.84L-11.56 67.11L-14.46 66.55L-17.33 65.86L-20.17 65.05Z"/>
<path fill="#7d99d1" d="M12.86 79.47L24.96 76.53L36.47 71.77L47.1 65.29L39.55 54.82L30.62 60.27L20.96 64.27L10.8 66.73Z"/>
<path fill="#ff0000" class="h" d="M13.58 78.84L16.99 78.18L20.36 77.37L23.69 76.41L20.17 65.05L17.33 65.86L14.46 66.55L11.56 67.11Z"/>
<path fill="#ff0000" class="h" d="M25.75 75.74L29.01 74.56L32.21 73.23L35.35 71.76L30.09 61.09L27.42 62.34L24.69 63.47L21.92 64.48Z"/>
<path fill="#ff0000" class="h" d="M37.28 70.78L40.31 69.1L43.27 67.29L46.14 65.35L39.28 55.63L36.83 57.28L34.32 58.82L31.73 60.25Z"/>
</g>
<g transform="translate(2895.9 402.25) scale(0.598 1)" shape-rendering="crispEdges">
<g fill="none" stroke="#fff">
<circle r="61.9" stroke-width="10.4" stroke-dasharray="4.9452 2.0000" stroke-dashoffset="-1.0000"/>
<circle r="74.05" stroke-width="11.9" stroke-dasharray="9.6317 2.0000" stroke-dashoffset="-1.0000"/>
<circle r="90.85" stroke-width="15.9" stroke-dasharray="8.1933 2.0000" stroke-dashoffset="-1.0000"/>
<circle r="110.15" stroke-width="17.9" stroke-dasharray="6.6512 2.0000" stroke-dashoffset="3.3256"/>
</g>
<path fill="#7d99d1" d="M-12.86 -79.47L-24.96 -76.53L-36.47 -71.77L-47.1 -65.29L-39.55 -54.82L-30.62 -60.27L-20.96 -64.27L-10.8 -66.73Z"/>
<path fill="#ff0000" class="h" d="M-13.58 -78.84L-16.99 -78.18L-20.36 -77.37L-23.69 -76.41L-20.17 -65.05L-17.33 -65.86L-14.46 -66.55L-11.56 -67.11Z"/>
<path fill="#ff0000" class="h" d="M-25.75 -75.74L-29.01 -74.56L-32.21 -73.23L-35.35 -71.76L-30.09 -61.09L-27.42 -62.34L-24.69 -63.47L-21.92 -64.48Z"/>
<path fill="#ff0000" class="h" d="M-37.28 -70.78L-40.31 -69.1L-43.27 -67.29L-46.14 -65.35L-39.28 -55.63L-36.83 -57.28L-34.32 -58.82L-31.73 -60.25Z"/>
<path fill="#7d99d1" d="M47.1 -65.29L36.47 -71.77L24.96 -76.53L12.86 -79.47L10.8 -66.73L20.96 -64.27L30.62 -60.27L39.55 -54.82Z"/>
<path fill="#ff0000" class="h" d="M46.14 -65.35L43.27 -67.29L40.31 -69.1L37.28 -70.78L31.73 -60.25L34.32 -58.82L36.83 -57.28L39.28 -55.63Z"/>
<path fill="#ff0000" class="h" d="M35.35 -71.76L32.21 -73.23L29.01 -74.56L25.75 -75.74L21.92 -64.48L24.69 -63.47L27.42 -62.34L30.09 -61.09Z"/>
<path fill="#ff0000" class="h" d="M23.69 -76.41L20.36 -77.37L16.99 -78.18L13.58 -78.84L11.56 -67.11L14.46 -66.55L17.33 -65.86L20.17 -65.05Z"/>
<path fill="#7d99d1" d="M-65.29 -47.1L-71.77 -36.47L-76.53 -24.96L-79.47 -12.86L-66.73 -10.8L-64.27 -20.96L-60.27 -30.62L-54.82 -39.55Z"/>
<path fill="#ff0000" class="h" d="M-65.35 -46.14L-67.29 -43.27L-69.1 -40.31L-70.78 -37.28L-60.25 -31.73L-58.82 -34.32L-57.28 -36.83L-55.63 -39.28Z"/>
<path fill="#ff0000" class="h" d="M-71.76 -35.35L-73.23 -32.21L-74.56 -29.01L-75.74 -25.75L-64.48 -21.92L-63.47 -24.69L-62.34 -27.42L-61.09 -30.09Z"/>
<path fill="#ff0000" class="h" d="M-76.41 -23.69L-77.37 -20.36L-78.18 -16.99L-78.84 -13.58L-67.11 -11.56L-66.55 -14.46L-65.86 -17.33L-65.05 -20.17Z"/>
<path fill="#7d99d1" d="M79.47 -12.86L76.53 -24.96L71.77 -36.47L65.29 -47.1L54.82 -39.55L60.27 -30.62L64.27 -20.96L66.73 -10.8Z"/>
<path fill="#ff0000" class="h" d="M78.84 -13.58L78.18 -16.99L77.37 -20.36L76.41 -23.69L65.05 -20.17L65.86 -17.33L66.55 -14.46L67.11 -11.56Z"/>
<path fill="#ff0000" class="h" d="M75.74 -25.75L74.56 -29.01L73.23 -32.21L71.76 -35.35L61.09 -30.09L62.34 -27.42L63.47 -24.69L64.48 -21.92Z"/>
<path fill="#ff0000" class="h" d="M70.78 -37.28L69.1 -40.31L67.29 -43.27L65.35 -46.14L55.63 -39.28L57.28 -36.83L58.82 -34.32L60.25 -31.73Z"/>
<path fill="#7d99d1" d="M-79.47 12.86L-76.53 24.96L-71.77 36.47L-65.29 47.1L-54.82 39.55L-60.27 30.62L-64.27 20.96L-66.73 10.8Z"/>
<path fill="#ff0000" class="h" d="M-78.84 13.58L-78.18 16.99L-77.37 20.36L-76.41 23.69L-65.05 20.17L-65.86 17.33L-66.55 14.46L-67.11 11.56Z"/>
<path fill="#ff0000" class="h" d="M-75.74 25.75L-74.56 29.01L-73.23 32.21L-71.76 35.35L-61.09 30.09L-62.34 27.42L-63.47 24.69L-64.48 21.92Z"/>
<path fill="#ff0000" class="h" d="M-70.78 37.28L-69.1 40.31L-67.29 43.27L-65.35 46.14L-55.63 39.28L-57.28 36.83L-58.82 34.32L-60.25 31.73Z"/>
<path fill="#7d99d1" d="M-47.1 65.29L-36.47 71.77L-24.96 76.53L-12.86 79.47L-10.8 66.73L-20.96 64.27L-30.62 60.27L-39.55 54.82Z"/>
<path fill="#ff0000" class="h" d="M-46.14 65.35L-43.27 67.29L-40.31 69.1L-37.28 70.78L-31.73 60.25L-34.32 58.82L-36.83 57.28L-39.28 55.63Z"/>
<path fill="#ff0000" class="h" d="M-35.35 71.76L-32.21 73.23L-29.01 74.56L-25.75 75.74L-21.92 64.48L-24.69 63.47L-27.42 62.34L-30.09 61.09Z"/>
<path fill="#ff0000" class="h" d="M-23.69 76.41L-20.36 77.37L-16.99 78.18L-13.58 78.84L-11.56 67.11L-14.46 66.55L-17.33 65.86L-20.17 65.05Z"/>
<path fill="#7d99d1" d="M12.86 79.47L24.96 76.53L36.47 71.77L47.1 65.29L39.55 54.82L30.62 60.27L20.96 64.27L10.8 66.73Z"/>
<path fill="#ff0000" class="h" d="M13.58 78.84L16.99 78.18L20.36 77.37L23.69 76.41L20.17 65.05L17.33 65.86L14.46 66.55L11.56 67.11Z"/>
<path fill="#ff0000" class="h" d="M25.75 75.74L29.01 74.56L32.21 73.23L35.35 71.76L30.09 61.09L27.42 62.34L24.69 63.47L21.92 64.48Z"/>
<path fill="#ff0000" class="h" d="M37.28 70.78L40.31 69.1L43.27 67.29L46.14 65.35L39.28 55.63L36.83 57.28L34.32 58.82L31.73 60.25Z"/>
<path fill="#00ff00" d="M20.17 -65.05L11.56 -67.11L13.58 -78.84Z"/>
</g>
<g transform="translate(1297.9 1404.25) scale(0.598 1)" shape-rendering="crispEdges">
<g fill="none" stroke="#fff">
<circle r="29.7" stroke-width="7.6" stroke-dasharray="5.7754 2.0000" stroke-dashoffset="-1.0000"/>
<circle r="39.4" stroke-width="7.8" stroke-dasharray="8.3149 2.0000" stroke-dashoffset="-1.0000"/>
<circle r="48.9" stroke-width="9.6" stroke-dasharray="5.6812 2.0000" stroke-dashoffset="2.8406"/>
<circle r="61.9" stroke-width="10.4" stroke-dasharray="4.9452 2.0000" stroke-dashoffset="-1.0000"/>
<circle r="74.05" stroke-width="11.9" stroke-dasharray="9.6317 2.0000" stroke-dashoffset="-1.0000"/>
<circle r="90.85" stroke-width="15.9" stroke-dasharray="8.1933 2.0000" stroke-dashoffset="-1.0000"/>
<circle r="110.15" stroke-width="17.9" stroke-dasharray="6.6512 2.0000" stroke-dashoffset="3.3256"/>
</g>
<path fill="#7d99d1" d="M-65.29 -47.1L-71.77 -36.47L-76.53 -24.96L-79.47 -12.86L-66.73 -10.8L-64.27 -20.96L-60.27 -30.62L-54.82 -39.55Z"/>
<path fill="#ff0000" class="h" d="M-65.35 -46.14L-67.29 -43.27L-69.1 -40.31L-70.78 -37.28L-60.25 -31.73L-58.82 -34.32L-57.28 -36.83L-55.63 -39.28Z"/>
<path fill="#ff0000" class="h" d="M-71.76 -35.35L-73.23 -32.21L-74.56 -29.01L-75.74 -25.75L-64.48 -21.92L-63.47 -24.69L-62.34 -27.42L-61.09 -30.09Z"/>
<path fill="#ff0000" class="h" d="M-76.41 -23.69L-77.37 -20.36L-78.18 -16.99L-78.84 -13.58L-67.11 -11.56L-66.55 -14.46L-65.86 -17.33L-65.05 -20.17Z"/>
<path fill="#7d99d1" d="M-79.47 12.86L-76.53 24.96L-71.77 36.47L-65.29 47.1L-54.82 39.55L-60.27 30.62L-64.27 20.96L-66.73 10.8Z"/>
<path fill="#ff0000" class="h" d="M-78.84 13.58L-78.18 16.99L-77.37 20.36L-76.41 23.69L-65.05 20.17L-65.86 17.33L-66.55 14.46L-67.11 11.56Z"/>
<path fill="#ff0000" class="h" d="M-75.74 25.75L-74.56 29.01L-73.23 32.21L-71.76 35.35L-61.09 30.09L-62.34 27.42L-63.47 24.69L-64.48 21.92Z"/>
<path fill="#ff0000" class="h" d="M-70.78 37.28L-69.1 40.31L-67.29 43.27L-65.35 46.14L-55.63 39.28L-57.28 36.83L-58.82 34.32L-60.25 31.73Z"/>
<path fill="#7d99d1" d="M12.86 79.47L24.96 76.53L36.47 71.77L47.1 65.29L39.55 54.82L30.62 60.27L20.96 64.27L10.8 66.73Z"/>
<path fill="#ff0000" class="h" d="M13.58 78.84L16.99 78.18L20.36 77.37L23.69 76.41L20.17 65.05L17.33 65.86L14.46 66.55L11.56 67.11Z"/>
<path fill="#ff0000" class="h" d="M25.75 75.74L29.01 74.56L32.21 73.23L35.35 71.76L30.09 61.09L27.42 62.34L24.69 63.47L21.92 64.48Z"/>
<path fill="#ff0000" class="h" d="M37.28 70.78L40.31 69.1L43.27 67.29L46.14 65.35L39.28 55.63L36.83 57.28L34.32 58.82L31.73 60.25Z"/>
</g>
<g transform="translate(1497.65 1404.25) scale(0.598 1)" shape-rendering="crispEdges">
<g fill="none" stroke="#fff">
<circle r="29.7" stroke-width="7.6" stroke-dasharray="5.7754 2.0000" stroke-dashoffset="-1.0000"/>
<circle r="39.4" stroke-width="7.8" stroke-dasharray="8.3149 2.0000" stroke-dashoffset="-1.0000"/>
<circle r="48.9" stroke-width="9.6" stroke-dasharray="5.6812 2.0000" stroke-dashoffset="2.8406"/>
<circle r="61.9" stroke-width="10.4" stroke-dasharray="4.9452 2.0000" stroke-dashoffset="-1.0000"/>
<circle r="74.05" stroke-width="11.9" stroke-dasharray="9.6317 2.0000" stroke-dashoffset="-1.0000"/>
<circle r="90.85" stroke-width="15.9" stroke-dasharray="8.1933 2.0000" stroke-dashoffset="-1.0000"/>
<circle r="110.15" stroke-width="17.9" stroke-dasharray="6.6512 2.0000" stroke-dashoffset="3.3256"/>
</g>
<path fill="#7d99d1" d="M-65.29 -47.1L-71.77 -36.47L-76.53 -24.96L-79.47 -12.86L-66.73 -10.8L-64.27 -20.96L-60.27 -30.62L-54.82 -39.55Z"/>
<path fill="#ff0000" class="h" d="M-65.35 -46.14L-67.29 -43.27L-69.1 -40.31L-70.78 -37.28L-60.25 -31.73L-58.82 -34.32L-57.28 -36.83L-55.63 -39.28Z"/>
<path fill="#ff0000" class="h" d="M-71.76 -35.35L-73.23 -32.21L-74.56 -29.01L-75.74 -25.75L-64.48 -21.92L-63.47 -24.69L-62.34 -27.42L-61.09 -30.09Z"/>
<path fill="#ff0000" class="h" d="M-76.41 -23.69L-77.37 -20.36L-78.18 -16.99L-78.84 -13.58L-67.11 -11.56L-66.55 -14.46L-65.86 -17.33L-65.05 -20.17Z"/>
<path fill="#7d99d1" d="M79.47 -12.86L76.53 -24.96L71.77 -36.47L65.29 -47.1L54.82 -39.55L60.27 -30.62L64.27 -20.96L66.73 -10.8Z"/>
<path fill="#ff0000" class="h" d="M78.84 -13.58L78.18 -16.99L77.37 -20.36L76.41 -23.69L65.05 -20.17L65.86 -17.33L66.55 -14.46L67.11 -11.56Z"/>
<path fill="#ff0000" class="h" d="M75.74 -25.75L74.56 -29.01L73.23 -32.21L71.76 -35.35L61.09 -30.09L62.34 -27.42L63.47 -24.69L64.48 -21.92Z"/>
<path fill="#ff0000" class="h" d="M70.78 -37.28L69.1 -40.31L67.29 -43.27L65.35 -46.14L55.63 -39.28L57.28 -36.83L58.82 -34.32L60.25 -31.73Z"/>
<path fill="#7d99d1" d="M65.29 47.1L71.77 36.47L76.53 24.96L79.47 12.86L66.73 10.8L64.27 20.96L60.27 30.62L54.82 39.55Z"/>
<path fill="#ff0000" class="h" d="M65.35 46.14L67.29 43.27L69.1 40.31L70.78 37.28L60.25 31.73L58.82 34.32L57.28 36.83L55.63 39.28Z"/>
<path fill="#ff0000" class="h" d="M71.76 35.35L73.23 32.21L74.56 29.01L75.74 25.75L64.48 21.92L63.47 24.69L62.34 27.42L61.09 30.09Z"/>
<path fill="#ff0000" class="h" d="M76.41 23.69L77.37 20.36L78.18 16.99L78.84 13.58L67.11 11.56L66.55 14.46L65.86 17.33L65.05 20.17Z"/>
</g>
<g transform="translate(1697.4 1404.25) scale(0.598 1)" shape-rendering="crispEdges">
<g fill="none" stroke="#fff">
<circle r="29.7" stroke-width="7.6" stroke-dasharray="5.7754 2.0000" stroke-dashoffset="-1.0000"/>
<circle r="39.4" stroke-width="7.8" stroke-dasharray="8.3149 2.0000" stroke-dashoffset="-1.0000"/>
<circle r="48.9" stroke-width="9.6" stroke-dasharray="5.6812 2.0000" stroke-dashoffset="2.8406"/>
<circle r="61.9" stroke-width="10.4" stroke-dasharray="4.9452 2.0000" stroke-dashoffset="-1.0000"/>
<circle r="74.05" stroke-width="11.9" stroke-dasharray="9.6317 2.0000" stroke-dashoffset="-1.0000"/>
<circle r="90.85" stroke-width="15.9" stroke-dasharray="8.1933 2.0000" stroke-dashoffset="-1.0000"/>
<circle r="110.15" stroke-width="17.9" stroke-dasharray="6.6512 2.0000" stroke-dashoffset="3.3256"/>
</g>
<path fill="#7d99d1" d="M47.1 -65.29L36.47 -71.77L24.96 -76.53L12.86 -79.47L10.8 -66.73L20.96 -64.27L30.62 -60.27L39.55 -54.82Z"/>
<path fill="#ff0000" class="h" d="M46.14 -65.35L43.27 -67.29L40.31 -69.1L37.28 -70.78L31.73 -60.25L34.32 -58.82L36.83 -57.28L39.28 -55.63Z"/>
<path fill="#ff0000" class="h" d="M35.35 -71.76L32.21 -73.23L29.01 -74.56L25.75 -75.74L21.92 -64.48L24.69 -63.47L27.42 -62.34L30.09 -61.09Z"/>
<path fill="#ff0000" class="h" d="M23.69 -76.41L20.36 -77.37L16.99 -78.18L13.58 -78.84L11.56 -67.11L14.46 -66.55L17.33 -65.86L20.17 -65.05Z"/>
<path fill="#7d99d1" d="M79.47 -12.86L76.53 -24.96L71.77 -36.47L65.29 -47.1L54.82 -39.55L60.27 -30.62L64.27 -20.96L66.73 -10.8Z"/>
<path fill="#ff0000" class="h" d="M78.84 -13.58L78.18 -16.99L77.37 -20.36L76.41 -23.69L65.05 -20.17L65.86 -17.33L66.55 -14.46L67.11 -11.56Z"/>
<path fill="#ff0000" class="h" d="M75.74 -25.75L74.56 -29.01L73.23 -32.21L71.76 -35.35L61.09 -30.09L62.34 -27.42L63.47 -24.69L64.48 -21.92Z"/>
<path fill="#ff0000" class="h" d="M70.78 -37.28L69.1 -40.31L67.29 -43.27L65.35 -46.14L55.63 -39.28L57.28 -36.83L58.82 -34.32L60.25 -31.73Z"/>
<path fill="#7d99d1" d="M65.29 47.1L71.77 36.47L76.53 24.96L79.47 12.86L66.73 10.8L64.27 20.96L60.27 30.62L54.82 39.55Z"/>
<path fill="#ff0000" class="h" d="M65.35 46.14L67.29 43.27L69.1 40.31L70.78 37.28L60.25 31.73L58.82 34.32L57.28 36.83L55.63 39.28Z"/>
<path fill="#ff0000" class="h" d="M71.76 35.35L73.23 32.21L74.56 29.01L75.74 25.75L64.48 21.92L63.47 24.69L62.34 27.42L61.09 30.09Z"/>
<path fill="#ff0000" class="h" d="M76.41 23.69L77.37 20.36L78.18 16.99L78.84 13.58L67.11 11.56L66.55 14.46L65.86 17.33L65.05 20.17Z"/>
<path fill="#7d99d1" d="M12.86 79.47L24.96 76.53L36.47 71.77L47.1 65.29L39.55 54.82L30.62 60.27L20.96 64.27L10.8 66.73Z"/>
<path fill="#ff0000" class="h" d="M13.58 78.84L16.99 78.18L20.36 77.37L23.69 76.41L20.17 65.05L17.33 65.86L14.46 66.55L11.56 67.11Z"/>
<path fill="#ff0000" class="h" d="M25.75 75.74L29.01 74.56L32.21 73.23L35.35 71.76L30.09 61.09L27.42 62.34L24.69 63.47L21.92 64.48Z"/>
<path fill="#ff0000" class="h" d="M37.28 70.78L40.31 69.1L43.27 67.29L46.14 65.35L39.28 55.63L36.83 57.28L34.32 58.82L31.73 60.25Z"/>
</g>
<g transform="translate(1897.15 1404.25) scale(0.598 1)" shape-rendering="crispEdges">
<g fill="none" stroke="#fff">
<circle r="39.4" stroke-width="7.8" stroke-dasharray="8.3149 2.0000" stroke-dashoffset="-1.0000"/>
<circle r="48.9" stroke-width="9.6" stroke-dasharray="5.6812 2.0000" stroke-dashoffset="2.8406"/>
<circle r="61.9" stroke-width="10.4" stroke-dasharray="4.9452 2.0000" stroke-dashoffset="-1.0000"/>
<circle r="74.05" stroke-width="11.9" stroke-dasharray="9.6317 2.0000" stroke-dashoffset="-1.0000"/>
<circle r="90.85" stroke-width="15.9" stroke-dasharray="8.1933 2.0000" stroke-dashoffset="-1.0000"/>
<circle r="110.15" stroke-width="17.9" stroke-dasharray="6.6512 2.0000" stroke-dashoffset="3.3256"/>
</g>
<path fill="#7d99d1" d="M79.47 -12.86L76.53 -24.96L71.77 -36.47L65.29 -47.1L54.82 -39.55L60.27 -30.62L64.27 -20.96L66.73 -10.8Z"/>
<path fill="#ff0000" class="h" d="M78.84 -13.58L78.18 -16.99L77.37 -20.36L76.41 -23.69L65.05 -20.17L65.86 -17.33L66.55 -14.46L67.11 -11.56Z"/>
<path fill="#ff0000" class="h" d="M75.74 -25.75L74.56 -29.01L73.23 -32.21L71.76 -35.35L61.09 -30.09L62.34 -27.42L63.47 -24.69L64.48 -21.92Z"/>
<path fill="#ff0000" class="h" d="M70.78 -37.28L69.1 -40.31L67.29 -43.27L65.35 -46.14L55.63 -39.28L57.28 -36.83L58.82 -34.32L60.25 -31.73Z"/>
<path fill="#7d99d1" d="M65.29 47.1L71.77 36.47L76.53 24.96L79.47 12.86L66.73 10.8L64.27 20.96L60.27 30.62L54.82 39.55Z"/>
<path fill="#ff0000" class="h" d="M65.35 46.14L67.29 43.27L69.1 40.31L70.78 37.28L60.25 31.73L58.82 34.32L57.28 36.83L55.63 39.28Z"/>
<path fill="#ff0000" class="h" d="M71.76 35.35L73.23 32.21L74.56 29.01L75.74 25.75L64.48 21.92L63.47 24.69L62.34 27.42L61.09 30.09Z"/>
<path fill="#ff0000" class="h" d="M76.41 23.69L77.37 20.36L78.18 16.99L78.84 13.58L67.11 11.56L66.55 14.46L65.86 17.33L65.05 20.17Z"/>
<path fill="#7d99d1" d="M-47.1 65.29L-36.47 71.77L-24.96 76.53L-12.86 79.47L-10.8 66.73L-20.96 64.27L-30.62 60.27L-39.55 54.82Z"/>
<path fill="#ff0000" class="h" d="M-46.14 65.35L-43.27 67.29L-40.31 69.1L-37.28 70.78L-31.73 60.25L-34.32 58.82L-36.83 57.28L-39.28 55.63Z"/>
<path fill="#ff0000" class="h" d="M-35.35 71.76L-32.21 73.23L-29.01 74.56L-25.75 75.74L-21.92 64.48L-24.69 63.47L-27.42 62.34L-30.09 61.09Z"/>
<path fill="#ff0000" class="h" d="M-23.69 76.41L-20.36 77.37L-16.99 78.18L-13.58 78.84L-11.56 67.11L-14.46 66.55L-17.33 65.86L-20.17 65.05Z"/>
<path fill="#7d99d1" d="M12.86 79.47L24.96 76.53L36.47 71.77L47.1 65.29L39.55 54.82L30.62 60.27L20.96 64.27L10.8 66.73Z"/>
<path fill="#ff0000" class="h" d="M13.58 78.84L16.99 78.18L20.36 77.37L23.69 76.41L20.17 65.05L17.33 65.86L14.46 66.55L11.56 67.11Z"/>
<path fill="#ff0000" class="h" d="M25.75 75.74L29.01 74.56L32.21 73.23L35.35 71.76L30.09 61.09L27.42 62.34L24.69 63.47L21.92 64.48Z"/>
<path fill="#ff0000" class="h" d="M37.28 70.78L40.31 69.1L43.27 67.29L46.14 65.35L39.28 55.63L36.83 57.28L34.32 58.82L31.73 60.25Z"/>
</g>
<g transform="translate(2096.9 1404.25) scale(0.598 1)" shape-rendering="crispEdges">
<g fill="none" stroke="#fff">
<circle r="39.4" stroke-width="7.8" stroke-dasharray="8.3149 2.0000" stroke-dashoffset="-1.0000"/>
<circle r="48.9" stroke-width="9.6" stroke-dasharray="5.6812 2.0000" stroke-dashoffset="2.8406"/>
<circle r="61.9" stroke-width="10.4" stroke-dasharray="4.9452 2.0000" stroke-dashoffset="-1.0000"/>
<circle r="74.05" stroke-width="11.9" stroke-dasharray="9.6317 2.0000" stroke-dashoffset="-1.0000"/>
<circle r="90.85" stroke-width="15.9" stroke-dasharray="8.1933 2.0000" stroke-dashoffset="-1.0000"/>
<circle r="110.15" stroke-width="17.9" stroke-dasharray="6.6512 2.0000" stroke-dashoffset="3.3256"/>
</g>
<path fill="#7d99d1" d="M-12.86 -79.47L-24.96 -76.53L-36.47 -71.77L-47.1 -65.29L-39.55 -54.82L-30.62 -60.27L-20.96 -64.27L-10.8 -66.73Z"/>
<path fill="#ff0000" class="h" d="M-13.58 -78.84L-16.99 -78.18L-20.36 -77.37L-23.69 -76.41L-20.17 -65.05L-17.33 -65.86L-14.46 -66.55L-11.56 -67.11Z"/>
<path fill="#ff0000" class="h" d="M-25.75 -75.74L-29.01 -74.56L-32.21 -73.23L-35.35 -71.76L-30.09 -61.09L-27.42 -62.34L-24.69 -63.47L-21.92 -64.48Z"/>
<path fill="#ff0000" class="h" d="M-37.28 -70.78L-40.31 -69.1L-43.27 -67.29L-46.14 -65.35L-39.28 -55.63L-36.83 -57.28L-34.32 -58.82L-31.73 -60.25Z"/>
<path fill="#7d99d1" d="M47.1 -65.29L36.47 -71.77L24.96 -76.53L12.86 -79.47L10.8 -66.73L20.96 -64.27L30.62 -60.27L39.55 -54.82Z"/>
<path fill="#ff0000" class="h" d="M46.14 -65.35L43.27 -67.29L40.31 -69.1L37.28 -70.78L31.73 -60.25L34.32 -58.82L36.83 -57.28L39.28 -55.63Z"/>
<path fill="#ff0000" class="h" d="M35.35 -71.76L32.21 -73.23L29.01 -74.56L25.75 -75.74L21.92 -64.48L24.69 -63.47L27.42 -62.34L30.09 -61.09Z"/>
<path fill="#ff0000" class="h" d="M23.69 -76.41L20.36 -77.37L16.99 -78.18L13.58 -78.84L11.56 -67.11L14.46 -66.55L17.33 -65.86L20.17 -65.05Z"/>
<path fill="#7d99d1" d="M-65.29 -47.1L-71.77 -36.47L-76.53 -24.96L-79.47 -12.86L-66.73 -10.8L-64.27 -20.96L-60.27 -30.62L-54.82 -39.55Z"/>
<path fill="#ff0000" class="h" d="M-65.35 -46.14L-67.29 -43.27L-69.1 -40.31L-70.78 -37.28L-60.25 -31.73L-58.82 -34.32L-57.28 -36.83L-55.63 -39.28Z"/>
<path fill="#ff0000" class="h" d="M-71.76 -35.35L-73.23 -32.21L-74.56 -29.01L-75.74 -25.75L-64.48 -21.92L-63.47 -24.69L-62.34 -27.42L-61.09 -30.09Z"/>
<path fill="#ff0000" class="h" d="M-76.41 -23.69L-77.37 -20.36L-78.18 -16.99L-78.84 -13.58L-67.11 -11.56L-66.55 -14.46L-65.86 -17.33L-65.05 -20.17Z"/>
<path fill="#7d99d1" d="M79.47 -12.86L76.53 -24.96L71.77 -36.47L65.29 -47.1L54.82 -39.55L60.27 -30.62L64.27 -20.96L66.73 -10.8Z"/>
<path fill="#ff0000" class="h" d="M78.84 -13.58L78.18 -16.99L77.37 -20.36L76.41 -23.69L65.05 -20.17L65.86 -17.33L66.55 -14.46L67.11 -11.56Z"/>
<path fill="#ff0000" class="h" d="M75.74 -25.75L74.56 -29.01L73.23 -32.21L71.76 -35.35L61.09 -30.09L62.34 -27.42L63.47 -24.69L64.48 -21.92Z"/>
<path fill="#ff0000" class="h" d="M70.78 -37.28L69.1 -40.31L67.29 -43.27L65.35 -46.14L55.63 -39.28L57.28 -36.83L58.82 -34.32L60.25 -31.73Z"/>
<path fill="#7d99d1" d="M-79.47 12.86L-76.53 24.96L-71.77 36.47L-65.29 47.1L-54.82 39.55L-60.27 30.62L-64.27 20.96L-66.73 10.8Z"/>
<path fill="#ff0000" class="h" d="M-78.84 13.58L-78.18 16.99L-77.37 20.36L-76.41 23.69L-65.05 20.17L-65.86 17.33L-66.55 14.46L-67.11 11.56Z"/>
<path fill="#ff0000" class="h" d="M-75.74 25.75L-74.56 29.01L-73.23 32.21L-71.76 35.35L-61.09 30.09L-62.34 27.42L-63.47 24.69L-64.48 21.92Z"/>
<path fill="#ff0000" class="h" d="M-70.78 37.28L-69.1 40.31L-67.29 43.27L-65.35 46.14L-55.63 39.28L-57.28 36.83L-58.82 34.32L-60.25 31.73Z"/>
<path fill="#7d99d1" d="M65.29 47.1L71.77 36.47L76.53 24.96L79.47 12.86L66.73 10.8L64.27 20.96L60.27 30.62L54.82 39.55Z"/>
<path fill="#ff0000" class="h" d="M65.35 46.14L67.29 43.27L69.1 40.31L70.78 37.28L60.25 31.73L58.82 34.32L57.28 36.83L55.63 39.28Z"/>
<path fill="#ff0000" class="h" d="M71.76 35.35L73.23 32.21L74.56 29.01L75.74 25.75L64.48 21.92L63.47 24.69L62.34 27.42L61.09 30.09Z"/>
<path fill="#ff0000" class="h" d="M76.41 23.69L77.37 20.36L78.18 16.99L78.84 13.58L67.11 11.56L66.55 14.46L65.86 17.33L65.05 20.17Z"/>
<path fill="#7d99d1" d="M12.86 79.47L24.96 76.53L36.47 71.77L47.1 65.29L39.55 54.82L30.62 60.27L20.96 64.27L10.8 66.73Z"/>
<path fill="#ff0000" class="h" d="M13.58 78.84L16.99 78.18L20.36 77.37L23.69 76.41L20.17 65.05L17.33 65.86L14.46 66.55L11.56 67.11Z"/>
<path fill="#ff0000" class="h" d="M25.75 75.74L29.01 74.56L32.21 73.23L35.35 71.76L30.09 61.09L27.42 62.34L24.69 63.47L21.92 64.48Z"/>
<path fill="#ff0000" class="h" d="M37.28 70.78L40.31 69.1L43.27 67.29L46.14 65.35L39.28 55.63L36.83 57.28L34.32 58.82L31.73 60.25Z"/>
</g>
<g transform="translate(2296.65 1404.25) scale(0.598 1)" shape-rendering="crispEdges">
<g fill="none" stroke="#fff">
<circle r="39.4" stroke-width="7.8" stroke-dasharray="8.3149 2.0000" stroke-dashoffset="-1.0000"/>
<circle r="48.9" stroke-width="9.6" stroke-dasharray="5.6812 2.0000" stroke-dashoffset="2.8406"/>
<circle r="61.9" stroke-width="10.4" stroke-dasharray="4.9452 2.0000" stroke-dashoffset="-1.0000"/>
<circle r="74.05" stroke-width="11.9" stroke-dasharray="9.6317 2.0000" stroke-dashoffset="-1.0000"/>
<circle r="90.85" stroke-width="15.9" stroke-dasharray="8.1933 2.0000" stroke-dashoffset="-1.0000"/>
<circle r="110.15" stroke-width="17.9" stroke-dasharray="6.6512 2.0000" stroke-dashoffset="3.3256"/>
</g>
<path fill="#7d99d1" d="M-12.86 -79.47L-24.96 -76.53L-36.47 -71.77L-47.1 -65.29L-39.55 -54.82L-30.62 -60.27L-20.96 -64.27L-10.8 -66.73Z"/>
<path fill="#ff0000" class="h" d="M-13.58 -78.84L-16.99 -78.18L-20.36 -77.37L-23.69 -76.41L-20.17 -65.05L-17.33 -65.86L-14.46 -66.55L-11.56 -67.11Z"/>
<path fill="#ff0000" class="h" d="M-25.75 -75.74L-29.01 -74.56L-32.21 -73.23L-35.35 -71.76L-30.09 -61.09L-27.42 -62.34L-24.69 -63.47L-21.92 -64.48Z"/>
<path fill="#ff0000" class="h" d="M-37.28 -70.78L-40.31 -69.1L-43.27 -67.29L-46.14 -65.35L-39.28 -55.63L-36.83 -57.28L-34.32 -58.82L-31.73 -60.25Z"/>
<path fill="#7d99d1" d="M47.1 -65.29L36.47 -71.77L24.96 -76.53L12.86 -79.47L10.8 -66.73L20.96 -64.27L30.62 -60.27L39.55 -54.82Z"/>
<path fill="#ff0000" class="h" d="M46.14 -65.35L43.27 -67.29L40.31 -69.1L37.28 -70.78L31.73 -60.25L34.32 -58.82L36.83 -57.28L39.28 -55.63Z"/>
<path fill="#ff0000" class="h" d="M35.35 -71.76L32.21 -73.23L29.01 -74.56L25.75 -75.74L21.92 -64.48L24.69 -63.47L27.42 -62.34L30.09 -61.09Z"/>
<path fill="#ff0000" class="h" d="M23.69 -76.41L20.36 -77.37L16.99 -78.18L13.58 -78.84L11.56 -67.11L14.46 -66.55L17.33 -65.86L20.17 -65.05Z"/>
<path fill="#7d99d1" d="M-65.29 -47.1L-71.77 -36.47L-76.53 -24.96L-79.47 -12.86L-66.73 -10.8L-64.27 -20.96L-60.27 -30.62L-54.82 -39.55Z"/>
<path fill="#ff0000" class="h" d="M-65.35 -46.14L-67.29 -43.27L-69.1 -40.31L-70.78 -37.28L-60.25 -31.73L-58.82 -34.32L-57.28 -36.83L-55.63 -39.28Z"/>
<path fill="#ff0000" class="h" d="M-71.76 -35.35L-73.23 -32.21L-74.56 -29.01L-75.74 -25.75L-64.48 -21.92L-63.47 -24.69L-62.34 -27.42L-61.09 -30.09Z"/>
<path fill="#ff0000" class="h" d="M-76.41 -23.69L-77.37 -20.36L-78.18 -16.99L-78.84 -13.58L-67.11 -11.56L-66.55 -14.46L-65.86 -17.33L-65.05 -20.17Z"/>
<path fill="#7d99d1" d="M-79.47 12.86L-76.53 24.96L-71.77 36.47L-65.29 47.1L-54.82 39.55L-60.27 30.62L-64.27 20.96L-66.73 10.8Z"/>
<path fill="#ff0000" class="h" d="M-78.84 13.58L-78.18 16.99L-77.37 20.36L-76.41 23.69L-65.05 20.17L-65.86 17.33L-66.55 14.46L-67.11 11.56Z"/>
<path fill="#ff0000" class="h" d="M-75.74 25.75L-74.56 29.01L-73.23 32.21L-71.76 35.35L-61.09 30.09L-62.34 27.42L-63.47 24.69L-64.48 21.92Z"/>
<path fill="#ff0000" class="h" d="M-70.78 37.28L-69.1 40.31L-67.29 43.27L-65.35 46.14L-55.63 39.28L-57.28 36.83L-58.82 34.32L-60.25 31.73Z"/>
<path fill="#7d99d1" d="M65.29 47.1L71.77 36.47L76.53 24.96L79.47 12.86L66.73 10.8L64.27 20.96L60.27 30.62L54.82 39.55Z"/>
<path fill="#ff0000" class="h" d="M65.35 46.14L67.29 43.27L69.1 40.31L70.78 37.28L60.25 31.73L58.82 34.32L57.28 36.83L55.63 39.28Z"/>
<path fill="#ff0000" class="h" d="M71.76 35.35L73.23 32.21L74.56 29.01L75.74 25.75L64.48 21.92L63.47 24.69L62.34 27.42L61.09 30.09Z"/>
<path fill="#ff0000" class="h" d="M76.41 23.69L77.37 20.36L78.18 16.99L78.84 13.58L67.11 11.56L66.55 14.46L65.86 17.33L65.05 20.17Z"/>
<path fill="#7d99d1" d="M12.86 79.47L24.96 76.53L36.47 71.77L47.1 65.29L39.55 54.82L30.62 60.27L20.96 64.27L10.8 66.73Z"/>
<path fill="#ff0000" class="h" d="M13.58 78.84L16.99 78.18L20.36 77.37L23.69 76.41L20.17 65.05L17.33 65.86L14.46 66.55L11.56 67.11Z"/>
<path fill="#ff0000" class="h" d="M25.75 75.74L29.01 74.56L32.21 73.23L35.35 71.76L30.09 61.09L27.42 62.34L24.69 63.47L21.92 64.48Z"/>
<path fill="#ff0000" class="h" d="M37.28 70.78L40.31 69.1L43.27 67.29L46.14 65.35L39.28 55.63L36.83 57.28L34.32 58.82L31.73 60.25Z"/>
</g>
<g transform="translate(2496.4 1404.25) scale(0.598 1)" shape-rendering="crispEdges">
<g fill="none" stroke="#fff">
<circle r="48.9" stroke-width="9.6" stroke-dasharray="5.6812 2.0000" stroke-dashoffset="2.8406"/>
<circle r="61.9" stroke-width="10.4" stroke-dasharray="4.9452 2.0000" stroke-dashoffset="-1.0000"/>
<circle r="74.05" stroke-width="11.9" stroke-dasharray="9.6317 2.0000" stroke-dashoffset="-1.0000"/>
<circle r="90.85" stroke-width="15.9" stroke-dasharray="8.1933 2.0000" stroke-dashoffset="-1.0000"/>
<circle r="110.15" stroke-width="17.9" stroke-dasharray="6.6512 2.0000" stroke-dashoffset="3.3256"/>
</g>
<path fill="#7d99d1" d="M-12.86 -79.47L-24.96 -76.53L-36.47 -71.77L-47.1 -65.29L-39.55 -54.82L-30.62 -60.27L-20.96 -64.27L-10.8 -66.73Z"/>
<path fill="#ff0000" class="h" d="M-13.58 -78.84L-16.99 -78.18L-20.36 -77.37L-23.69 -76.41L-20.17 -65.05L-17.33 -65.86L-14.46 -66.55L-11.56 -67.11Z"/>
<path fill="#ff0000" class="h" d="M-25.75 -75.74L-29.01 -74.56L-32.21 -73.23L-35.35 -71.76L-30.09 -61.09L-27.42 -62.34L-24.69 -63.47L-21.92 -64.48Z"/>
<path fill="#ff0000" class="h" d="M-37.28 -70.78L-40.31 -69.1L-43.27 -67.29L-46.14 -65.35L-39.28 -55.63L-36.83 -57.28L-34.32 -58.82L-31.73 -60.25Z"/>
<path fill="#7d99d1" d="M47.1 -65.29L36.47 -71.77L24.96 -76.53L12.86 -79.47L10.8 -66.73L20.96 -64.27L30.62 -60.27L39.55 -54.82Z"/>
<path fill="#ff0000" class="h" d="M46.14 -65.35L43.27 -67.29L40.31 -69.1L37.28 -70.78L31.73 -60.25L34.32 -58.82L36.83 -57.28L39.28 -55.63Z"/>
<path fill="#ff0000" class="h" d="M35.35 -71.76L32.21 -73.23L29.01 -74.56L25.75 -75.74L21.92 -64.48L24.69 -63.47L27.42 -62.34L30.09 -61.09Z"/>
<path fill="#ff0000" class="h" d="M23.69 -76.41L20.36 -77.37L16.99 -78.18L13.58 -78.84L11.56 -67.11L14.46 -66.55L17.33 -65.86L20.17 -65.05Z"/>
<path fill="#7d99d1" d="M-65.29 -47.1L-71.77 -36.47L-76.53 -24.96L-79.47 -12.86L-66.73 -10.8L-64.27 -20.96L-60.27 -30.62L-54.82 -39.55Z"/>
<path fill="#ff0000" class="h" d="M-65.35 -46.14L-67.29 -43.27L-69.1 -40.31L-70.78 -37.28L-60.25 -31.73L-58.82 -34.32L-57.28 -36.83L-55.63 -39.28Z"/>
<path fill="#ff0000" class="h" d="M-71.76 -35.35L-73.23 -32.21L-74.56 -29.01L-75.74 -25.75L-64.48 -21.92L-63.47 -24.69L-62.34 -27.42L-61.09 -30.09Z"/>
<path fill="#ff0000" class="h" d="M-76.41 -23.69L-77.37 -20.36L-78.18 -16.99L-78.84 -13.58L-67.11 -11.56L-66.55 -14.46L-65.86 -17.33L-65.05 -20.17Z"/>
<path fill="#7d99d1" d="M79.47 -12.86L76.53 -24.96L71.77 -36.47L65.29 -47.1L54.82 -39.55L60.27 -30.62L64.27 -20.96L66.73 -10.8Z"/>
<path fill="#ff0000" class="h" d="M78.84 -13.58L78.18 -16.99L77.37 -20.36L76.41 -23.69L65.05 -20.17L65.86 -17.33L66.55 -14.46L67.11 -11.56Z"/>
<path fill="#ff0000" class="h" d="M75.74 -25.75L74.56 -29.01L73.23 -32.21L71.76 -35.35L61.09 -30.09L62.34 -27.42L63.47 -24.69L64.48 -21.92Z"/>
<path fill="#ff0000" class="h" d="M70.78 -37.28L69.1 -40.31L67.29 -43.27L65.35 -46.14L55.63 -39.28L57.28 -36.83L58.82 -34.32L60.25 -31.73Z"/>
<path fill="#7d99d1" d="M-79.47 12.86L-76.53 24.96L-71.77 36.47L-65.29 47.1L-54.82 39.55L-60.27 30.62L-64.27 20.96L-66.73 10.8Z"/>
<path fill="#ff0000" class="h" d="M-78.84 13.58L-78.18 16.99L-77.37 20.36L-76.41 23.69L-65.05 20.17L-65.86 17.33L-66.55 14.46L-67.11 11.56Z"/>
<path fill="#ff0000" class="h" d="M-75.74 25.75L-74.56 29.01L-73.23 32.21L-71.76 35.35L-61.09 30.09L-62.34 27.42L-63.47 24.69L-64.48 21.92Z"/>
<path fill="#ff0000" class="h" d="M-70.78 37.28L-69.1 40.31L-67.29 43.27L-65.35 46.14L-55.63 39.28L-57.28 36.83L-58.82 34.32L-60.25 31.73Z"/>
<path fill="#7d99d1" d="M65.29 47.1L71.77 36.47L76.53 24.96L79.47 12.86L66.73 10.8L64.27 20.96L60.27 30.62L54.82 39.55Z"/>
<path fill="#ff0000" class="h" d="M65.35 46.14L67.29 43.27L69.1 40.31L70.78 37.28L60.25 31.73L58.82 34.32L57.28 36.83L55.63 39.28Z"/>
<path fill="#ff0000" class="h" d="M71.76 35.35L73.23 32.21L74.56 29.01L75.74 25.75L64.48 21.92L63.47 24.69L62.34 27.42L61.09 30.09Z"/>
<path fill="#ff0000" class="h" d="M76.41 23.69L77.37 20.36L78.18 16.99L78.84 13.58L67.11 11.56L66.55 14.46L65.86 17.33L65.05 20.17Z"/>
<path fill="#7d99d1" d="M12.86 79.47L24.96 76.53L36.47 71.77L47.1 65.29L39.55 54.82L30.62 60.27L20.96 64.27L10.8 66.73Z"/>
<path fill="#ff0000" class="h" d="M13.58 78.84L16.99 78.18L20.36 77.37L23.69 76.41L20.17 65.05L17.33 65.86L14.46 66.55L11.56 67.11Z"/>
<path fill="#ff0000" class="h" d="M25.75 75.74L29.01 74.56L32.21 73.23L35.35 71.76L30.09 61.09L27.42 62.34L24.69 63.47L21.92 64.48Z"/>
<path fill="#ff0000" class="h" d="M37.28 70.78L40.31 69.1L43.27 67.29L46.14 65.35L39.28 55.63L36.83 57.28L34.32 58.82L31.73 60.25Z"/>
</g>
<g transform="translate(2696.15 1404.25) scale(0.598 1)" shape-rendering="crispEdges">
<g fill="none" stroke="#fff">
<circle r="48.9" stroke-width="9.6" stroke-dasharray="5.6812 2.0000" stroke-dashoffset="2.8406"/>
<circle r="61.9" stroke-width="10.4" stroke-dasharray="4.9452 2.0000" stroke-dashoffset="-1.0000"/>
<circle r="74.05" stroke-width="11.9" stroke-dasharray="9.6317 2.0000" stroke-dashoffset="-1.0000"/>
<circle r="90.85" stroke-width="15.9" stroke-dasharray="8.1933 2.0000" stroke-dashoffset="-1.0000"/>
<circle r="110.15" stroke-width="17.9" stroke-dasharray="6.6512 2.0000" stroke-dashoffset="3.3256"/>
</g>
<path fill="#7d99d1" d="M79.47 -12.86L76.53 -24.96L71.77 -36.47L65.29 -47.1L54.82 -39.55L60.27 -30.62L64.27 -20.96L66.73 -10.8Z"/>
<path fill="#ff0000" class="h" d="M78.84 -13.58L78.18 -16.99L77.37 -20.36L76.41 -23.69L65.05 -20.17L65.86 -17.33L66.55 -14.46L67.11 -11.56Z"/>
<path fill="#ff0000" class="h" d="M75.74 -25.75L74.56 -29.01L73.23 -32.21L71.76 -35.35L61.09 -30.09L62.34 -27.42L63.47 -24.69L64.48 -21.92Z"/>
<path fill="#ff0000" class="h" d="M70.78 -37.28L69.1 -40.31L67.29 -43.27L65.35 -46.14L55.63 -39.28L57.28 -36.83L58.82 -34.32L60.25 -31.73Z"/>
<path fill="#7d99d1" d="M47.1 -65.29L36.47 -71.77L24.96 -76.53L12.86 -79.47L10.8 -66.73L20.96 -64.27L30.62 -60.27L39.55 -54.82Z"/>
<path fill="#ff0000" class="h" d="M46.14 -65.35L43.27 -67.29L40.31 -69.1L37.28 -70.78L31.73 -60.25L34.32 -58.82L36.83 -57.28L39.28 -55.63Z"/>
<path fill="#ff0000" class="h" d="M35.35 -71.76L32.21 -73.23L29.01 -74.56L25.75 -75.74L21.92 -64.48L24.69 -63.47L27.42 -62.34L30.09 -61.09Z"/>
<path fill="#ff0000" class="h" d="M23.69 -76.41L20.36 -77.37L16.99 -78.18L13.58 -78.84L11.56 -67.11L14.46 -66.55L17.33 -65.86L20.17 -65.05Z"/>
<path fill="#7d99d1" d="M-12.86 -79.47L-24.96 -76.53L-36.47 -71.77L-47.1 -65.29L-39.55 -54.82L-30.62 -60.27L-20.96 -64.27L-10.8 -66.73Z"/>
<path fill="#ff0000" class="h" d="M-13.58 -78.84L-16.99 -78.18L-20.36 -77.37L-23.69 -76.41L-20.17 -65.05L-17.33 -65.86L-14.46 -66.55L-11.56 -67.11Z"/>
<path fill="#ff0000" class="h" d="M-25.75 -75.74L-29.01 -74.56L-32.21 -73.23L-35.35 -71.76L-30.09 -61.09L-27.42 -62.34L-24.69 -63.47L-21.92 -64.48Z"/>
<path fill="#ff0000" class="h" d="M-37.28 -70.78L-40.31 -69.1L-43.27 -67.29L-46.14 -65.35L-39.28 -55.63L-36.83 -57.28L-34.32 -58.82L-31.73 -60.25Z"/>
<path fill="#7d99d1" d="M-65.29 -47.1L-71.77 -36.47L-76.53 -24.96L-79.47 -12.86L-66.73 -10.8L-64.27 -20.96L-60.27 -30.62L-54.82 -39.55Z"/>
<path fill="#ff0000" class="h" d="M-65.35 -46.14L-67.29 -43.27L-69.1 -40.31L-70.78 -37.28L-60.25 -31.73L-58.82 -34.32L-57.28 -36.83L-55.63 -39.28Z"/>
<path fill="#ff0000" class="h" d="M-71.76 -35.35L-73.23 -32.21L-74.56 -29.01L-75.74 -25.75L-64.48 -21.92L-63.47 -24.69L-62.34 -27.42L-61.09 -30.09Z"/>
<path fill="#ff0000" class="h" d="M-76.41 -23.69L-77.37 -20.36L-78.18 -16.99L-78.84 -13.58L-67.11 -11.56L-66.55 -14.46L-65.86 -17.33L-65.05 -20.17Z"/>
<path fill="#7d99d1" d="M-79.47 12.86L-76.53 24.96L-71.77 36.47L-65.29 47.1L-54.82 39.55L-60.27 30.62L-64.27 20.96L-66.73 10.8Z"/>
<path fill="#ff0000" class="h" d="M-78.84 13.58L-78.18 16.99L-77.37 20.36L-76.41 23.69L-65.05 20.17L-65.86 17.33L-66.55 14.46L-67.11 11.56Z"/>
<path fill="#ff0000" class="h" d="M-75.74 25.75L-74.56 29.01L-73.23 32.21L-71.76 35.35L-61.09 30.09L-62.34 27.42L-63.47 24.69L-64.48 21.92Z"/>
<path fill="#ff0000" class="h" d="M-70.78 37.28L-69.1 40.31L-67.29 43.27L-65.35 46.14L-55.63 39.28L-57.28 36.83L-58.82 34.32L-60.25 31.73Z"/>
<path fill="#7d99d1" d="M-47.1 65.29L-36.47 71.77L-24.96 76.53L-12.86 79.47L-10.8 66.73L-20.96 64.27L-30.62 60.27L-39.55 54.82Z"/>
<path fill="#ff0000" class="h" d="M-46.14 65.35L-43.27 67.29L-40.31 69.1L-37.28 70.78L-31.73 60.25L-34.32 58.82L-36.83 57.28L-39.28 55.63Z"/>
<path fill="#ff0000" class="h" d="M-35.35 71.76L-32.21 73.23L-29.01 74.56L-25.75 75.74L-21.92 64.48L-24.69 63.47L-27.42 62.34L-30.09 61.09Z"/>
<path fill="#ff0000" class="h" d="M-23.69 76.41L-20.36 77.37L-16.99 78.18L-13.58 78.84L-11.56 67.11L-14.46 66.55L-17.33 65.86L-20.17 65.05Z"/>
<path fill="#7d99d1" d="M12.86 79.47L24.96 76.53L36.47 71.77L47.1 65.29L39.55 54.82L30.62 60.27L20.96 64.27L10.8 66.73Z"/>
<path fill="#ff0000" class="h" d="M13.58 78.84L16.99 78.18L20.36 77.37L23.69 76.41L20.17 65.05L17.33 65.86L14.46 66.55L11.56 67.11Z"/>
<path fill="#ff0000" class="h" d="M25.75 75.74L29.01 74.56L32.21 73.23L35.35 71.76L30.09 61.09L27.42 62.34L24.69 63.47L21.92 64.48Z"/>
<path fill="#ff0000" class="h" d="M37.28 70.78L40.31 69.1L43.27 67.29L46.14 65.35L39.28 55.63L36.83 57.28L34.32 58.82L31.73 60.25Z"/>
<path fill="#7d99d1" d="M65.29 47.1L71.77 36.47L76.53 24.96L79.47 12.86L66.73 10.8L64.27 20.96L60.27 30.62L54.82 39.55Z"/>
<path fill="#ff0000" class="h" d="M65.35 46.14L67.29 43.27L69.1 40.31L70.78 37.28L60.25 31.73L58.82 34.32L57.28 36.83L55.63 39.28Z"/>
<path fill="#ff0000" class="h" d="M71.76 35.35L73.23 32.21L74.56 29.01L75.74 25.75L64.48 21.92L63.47 24.69L62.34 27.42L61.09 30.09Z"/>
<path fill="#ff0000" class="h" d="M76.41 23.69L77.37 20.36L78.18 16.99L78.84 13.58L67.11 11.56L66.55 14.46L65.86 17.33L65.05 20.17Z"/>
</g>
<g transform="translate(2895.9 1404.25) scale(0.598 1)" shape-rendering="crispEdges">
<g fill="none" stroke="#fff">
<circle r="61.9" stroke-width="10.4" stroke-dasharray="4.9452 2.0000" stroke-dashoffset="-1.0000"/>
<circle r="74.05" stroke-width="11.9" stroke-dasharray="9.6317 2.0000" stroke-dashoffset="-1.0000"/>
<circle r="90.85" stroke-width="15.9" stroke-dasharray="8.1933 2.0000" stroke-dashoffset="-1.0000"/>
<circle r="110.15" stroke-width="17.9" stroke-dasharray="6.6512 2.0000" stroke-dashoffset="3.3256"/>
</g>
<path fill="#7d99d1" d="M79.47 -12.86L76.53 -24.96L71.77 -36.47L65.29 -47.1L54.82 -39.55L60.27 -30.62L64.27 -20.96L66.73 -10.8Z"/>
<path fill="#ff0000" class="h" d="M78.84 -13.58L78.18 -16.99L77.37 -20.36L76.41 -23.69L65.05 -20.17L65.86 -17.33L66.55 -14.46L67.11 -11.56Z"/>
<path fill="#ff0000" class="h" d="M75.74 -25.75L74.56 -29.01L73.23 -32.21L71.76 -35.35L61.09 -30.09L62.34 -27.42L63.47 -24.69L64.48 -21.92Z"/>
<path fill="#ff0000" class="h" d="M70.78 -37.28L69.1 -40.31L67.29 -43.27L65.35 -46.14L55.63 -39.28L57.28 -36.83L58.82 -34.32L60.25 -31.73Z"/>
<path fill="#7d99d1" d="M47.1 -65.29L36.47 -71.77L24.96 -76.53L12.86 -79.47L10.8 -66.73L20.96 -64.27L30.62 -60.27L39.55 -54.82Z"/>
<path fill="#ff0000" class="h" d="M46.14 -65.35L43.27 -67.29L40.31 -69.1L37.28 -70.78L31.73 -60.25L34.32 -58.82L36.83 -57.28L39.28 -55.63Z"/>
<path fill="#ff0000" class="h" d="M35.35 -71.76L32.21 -73.23L29.01 -74.56L25.75 -75.74L21.92 -64.48L24.69 -63.47L27.42 -62.34L30.09 -61.09Z"/>
<path fill="#ff0000" class="h" d="M23.69 -76.41L20.36 -77.37L16.99 -78.18L13.58 -78.84L11.56 -67.11L14.46 -66.55L17.33 -65.86L20.17 -65.05Z"/>
<path fill="#7d99d1" d="M-12.86 -79.47L-24.96 -76.53L-36.47 -71.77L-47.1 -65.29L-39.55 -54.82L-30.62 -60.27L-20.96 -64.27L-10.8 -66.73Z"/>
<path fill="#ff0000" class="h" d="M-13.58 -78.84L-16.99 -78.18L-20.36 -77.37L-23.69 -76.41L-20.17 -65.05L-17.33 -65.86L-14.46 -66.55L-11.56 -67.11Z"/>
<path fill="#ff0000" class="h" d="M-25.75 -75.74L-29.01 -74.56L-32.21 -73.23L-35.35 -71.76L-30.09 -61.09L-27.42 -62.34L-24.69 -63.47L-21.92 -64.48Z"/>
<path fill="#ff0000" class="h" d="M-37.28 -70.78L-40.31 -69.1L-43.27 -67.29L-46.14 -65.35L-39.28 -55.63L-36.83 -57.28L-34.32 -58.82L-31.73 -60.25Z"/>
<path fill="#7d99d1" d="M-65.29 -47.1L-71.77 -36.47L-76.53 -24.96L-79.47 -12.86L-66.73 -10.8L-64.27 -20.96L-60.27 -30.62L-54.82 -39.55Z"/>
<path fill="#ff0000" class="h" d="M-65.35 -46.14L-67.29 -43.27L-69.1 -40.31L-70.78 -37.28L-60.25 -31.73L-58.82 -34.32L-57.28 -36.83L-55.63 -39.28Z"/>
<path fill="#ff0000" class="h" d="M-71.76 -35.35L-73.23 -32.21L-74.56 -29.01L-75.74 -25.75L-64.48 -21.92L-63.47 -24.69L-62.34 -27.42L-61.09 -30.09Z"/>
<path fill="#ff0000" class="h" d="M-76.41 -23.69L-77.37 -20.36L-78.18 -16.99L-78.84 -13.58L-67.11 -11.56L-66.55 -14.46L-65.86 -17.33L-65.05 -20.17Z"/>
<path fill="#7d99d1" d="M-79.47 12.86L-76.53 24.96L-71.77 36.47L-65.29 47.1L-54.82 39.55L-60.27 30.62L-64.27 20.96L-66.73 10.8Z"/>
<path fill="#ff0000" class="h" d="M-78.84 13.58L-78.18 16.99L-77.37 20.36L-76.41 23.69L-65.05 20.17L-65.86 17.33L-66.55 14.46L-67.11 11.56Z"/>
<path fill="#ff0000" class="h" d="M-75.74 25.75L-74.56 29.01L-73.23 32.21L-71.76 35.35L-61.09 30.09L-62.34 27.42L-63.47 24.69L-64.48 21.92Z"/>
<path fill="#ff0000" class="h" d="M-70.78 37.28L-69.1 40.31L-67.29 43.27L-65.35 46.14L-55.63 39.28L-57.28 36.83L-58.82 34.32L-60.25 31.73Z"/>
<path fill="#7d99d1" d="M-47.1 65.29L-36.47 71.77L-24.96 76.53L-12.86 79.47L-10.8 66.73L-20.96 64.27L-30.62 60.27L-39.55 54.82Z"/>
<path fill="#ff0000" class="h" d="M-46.14 65.35L-43.27 67.29L-40.31 69.1L-37.28 70.78L-31.73 60.25L-34.32 58.82L-36.83 57.28L-39.28 55.63Z"/>
<path fill="#ff0000" class="h" d="M-35.35 71.76L-32.21 73.23L-29.01 74.56L-25.75 75.74L-21.92 64.48L-24.69 63.47L-27.42 62.34L-30.09 61.09Z"/>
<path fill="#ff0000" class="h" d="M-23.69 76.41L-20.36 77.37L-16.99 78.18L-13.58 78.84L-11.56 67.11L-14.46 66.55L-17.33 65.86L-20.17 65.05Z"/>
<path fill="#7d99d1" d="M12.86 79.47L24.96 76.53L36.47 71.77L47.1 65.29L39.55 54.82L30.62 60.27L20.96 64.27L10.8 66.73Z"/>
<path fill="#ff0000" class="h" d="M13.58 78.84L16.99 78.18L20.36 77.37L23.69 76.41L20.17 65.05L17.33 65.86L14.46 66.55L11.56 67.11Z"/>
<path fill="#ff0000" class="h" d="M25.75 75.74L29.01 74.56L32.21 73.23L35.35 71.76L30.09 61.09L27.42 62.34L24.69 63.47L21.92 64.48Z"/>
<path fill="#ff0000" class="h" d="M37.28 70.78L40.31 69.1L43.27 67.29L46.14 65.35L39.28 55.63L36.83 57.28L34.32 58.82L31.73 60.25Z"/>
<path fill="#7d99d1" d="M65.29 47.1L71.77 36.47L76.53 24.96L79.47 12.86L66.73 10.8L64.27 20.96L60.27 30.62L54.82 39.55Z"/>
<path fill="#ff0000" class="h" d="M65.35 46.14L67.29 43.27L69.1 40.31L70.78 37.28L60.25 31.73L58.82 34.32L57.28 36.83L55.63 39.28Z"/>
<path fill="#ff0000" class="h" d="M71.76 35.35L73.23 32.21L74.56 29.01L75.74 25.75L64.48 21.92L63.47 24.69L62.34 27.42L61.09 30.09Z"/>
<path fill="#ff0000" class="h" d="M76.41 23.69L77.37 20.36L78.18 16.99L78.84 13.58L67.11 11.56L66.55 14.46L65.86 17.33L65.05 20.17Z"/>
<path fill="#00ff00" d="M11.56 67.11L20.17 65.05L23.69 76.41Z"/>
</g>
<g transform="translate(698.65 402.4) scale(0.598 1)" shape-rendering="crispEdges">
<g fill="none" stroke="#fff">
<circle r="30.98" stroke-width="7.55" stroke-dasharray="6.1092 2.0000" stroke-dashoffset="3.0546"/>
<circle r="40" stroke-width="8.2" stroke-dasharray="8.4720 2.0000" stroke-dashoffset="4.2360"/>
<circle r="49.72" stroke-width="9.35" stroke-dasharray="5.8108 2.0000" stroke-dashoffset="2.9054"/>
</g>
</g>
<g transform="translate(898.4 402.4) scale(0.598 1)" shape-rendering="crispEdges">
<g fill="none" stroke="#fff">
<circle r="30.98" stroke-width="7.55" stroke-dasharray="6.1092 2.0000" stroke-dashoffset="3.0546"/>
<circle r="40" stroke-width="8.2" stroke-dasharray="8.4720 2.0000" stroke-dashoffset="4.2360"/>
<circle r="49.72" stroke-width="9.35" stroke-dasharray="5.8108 2.0000" stroke-dashoffset="2.9054"/>
</g>
<path fill="#ff0000" d="M54.14 -5.36L53.89 -7.46L53.55 -9.55L53.14 -11.63L44.01 -9.63L44.35 -7.91L44.62 -6.18L44.83 -4.44Z"/>
<path fill="#ff0000" d="M49.83 -21.82L48.94 -23.75L47.98 -25.64L46.95 -27.49L38.88 -22.76L39.73 -21.23L40.53 -19.67L41.27 -18.07Z"/>
<path fill="#ff0000" d="M40.65 -36.15L39.21 -37.71L37.71 -39.21L36.15 -40.65L29.94 -33.66L31.23 -32.47L32.47 -31.23L33.66 -29.94Z"/>
<path fill="#ff0000" d="M27.49 -46.95L25.64 -47.98L23.75 -48.94L21.82 -49.83L18.07 -41.27L19.67 -40.53L21.23 -39.73L22.76 -38.88Z"/>
<path fill="#00ff00" d="M53.14 11.63L53.55 9.55L53.89 7.46L54.14 5.36L44.83 4.44L44.62 6.18L44.35 7.91L44.01 9.63Z"/>
<path fill="#ff0000" d="M26.84 -4.42L34.29 -5.65L25.45 -9.59Z"/>
<path fill="#0000ff" d="M25.45 9.59L26.84 4.42L34.29 5.65Z"/>
<path fill="#ff0000" d="M17.25 21.03L22.03 26.87L26.87 22.03Z"/>
</g>
<g transform="translate(1098.15 402.4) scale(0.598 1)" shape-rendering="crispEdges">
<g fill="none" stroke="#fff">
<circle r="30.98" stroke-width="7.55" stroke-dasharray="6.1092 2.0000" stroke-dashoffset="3.0546"/>
<circle r="40" stroke-width="8.2" stroke-dasharray="8.4720 2.0000" stroke-dashoffset="4.2360"/>
<circle r="49.72" stroke-width="9.35" stroke-dasharray="5.8108 2.0000" stroke-dashoffset="2.9054"/>
</g>
</g>
<g transform="translate(698.65 1404.4) scale(0.598 1)" shape-rendering="crispEdges">
<g fill="none" stroke="#fff">
<circle r="30.98" stroke-width="7.55" stroke-dasharray="6.1092 2.0000" stroke-dashoffset="3.0546"/>
<circle r="40" stroke-width="8.2" stroke-dasharray="8.4720 2.0000" stroke-dashoffset="4.2360"/>
<circle r="49.72" stroke-width="9.35" stroke-dasharray="5.8108 2.0000" stroke-dashoffset="2.9054"/>
</g>
<path fill="#0000ff" d="M21.03 -17.25L26.87 -22.03L22.03 -26.87Z"/>
<path fill="#ff0000" d="M34.29 -5.65L32.52 -12.26L25.45 -9.59Z"/>
<path fill="#0000ff" d="M35.46 -5.57L33.5 -12.9L41.15 -15.85Z"/>
<path fill="#00ff00" d="M25.45 9.59L32.52 12.26L26.84 4.42Z"/>
<path fill="#ff0000" d="M41.15 15.85L43.57 6.85L35.46 5.57Z"/>
<path fill="#ff0000" d="M22.56 27.93L27.71 34.3L34.3 27.71Z"/>
</g>
<g transform="translate(898.4 1404.4) scale(0.598 1)" shape-rendering="crispEdges">
<g fill="none" stroke="#fff">
<circle r="30.98" stroke-width="7.55" stroke-dasharray="6.1092 2.0000" stroke-dashoffset="3.0546"/>
<circle r="40" stroke-width="8.2" stroke-dasharray="8.4720 2.0000" stroke-dashoffset="4.2360"/>
<circle r="49.72" stroke-width="9.35" stroke-dasharray="5.8108 2.0000" stroke-dashoffset="2.9054"/>
</g>
<path fill="#ff0000" d="M-21.82 -49.83L-23.75 -48.94L-25.64 -47.98L-27.49 -46.95L-22.76 -38.88L-21.23 -39.73L-19.67 -40.53L-18.07 -41.27Z"/>
<path fill="#ff0000" d="M-36.15 -40.65L-37.71 -39.21L-39.21 -37.71L-40.65 -36.15L-33.66 -29.94L-32.47 -31.23L-31.23 -32.47L-29.94 -33.66Z"/>
<path fill="#ff0000" d="M-46.95 -27.49L-47.98 -25.64L-48.94 -23.75L-49.83 -21.82L-41.27 -18.07L-40.53 -19.67L-39.73 -21.23L-38.88 -22.76Z"/>
<path fill="#00ff00" d="M-53.14 -11.63L-53.55 -9.55L-53.89 -7.46L-54.14 -5.36L-44.83 -4.44L-44.62 -6.18L-44.35 -7.91L-44.01 -9.63Z"/>
<path fill="#ff0000" d="M-54.14 5.36L-53.89 7.46L-53.55 9.55L-53.14 11.63L-44.01 9.63L-44.35 7.91L-44.62 6.18L-44.83 4.44Z"/>
</g>
<g transform="translate(1098.15 1404.4) scale(0.598 1)" shape-rendering="crispEdges">
<g fill="none" stroke="#fff">
<circle r="30.98" stroke-width="7.55" stroke-dasharray="6.1092 2.0000" stroke-dashoffset="3.0546"/>
<circle r="40" stroke-width="8.2" stroke-dasharray="8.4720 2.0000" stroke-dashoffset="4.2360"/>
<circle r="49.72" stroke-width="9.35" stroke-dasharray="5.8108 2.0000" stroke-dashoffset="2.9054"/>
</g>
<path fill="#0000ff" d="M35.46 -5.57L33.5 -12.9L41.15 -15.85Z"/>
<path fill="#ff0000" d="M33.5 12.9L41.15 15.85L43.57 6.85Z"/>
<path fill="#ff0000" d="M22.56 27.93L27.71 34.3L27.93 22.56Z"/>
</g>
<path fill="#fff" d="M866.8 617.8H1185V636.2H866.8ZM866.8 638.75H908.97V657.14H866.8ZM916.74 638.75H992.71V657.14H916.74ZM1000.48 638.75H1068.07V657.14H1000.48ZM1075.84 638.75H1151.81V657.14H1075.84ZM1159.58 638.75H1185V657.14H1159.58ZM866.8 659.69H1185V678.09H866.8ZM866.8 680.63H908.97V699.03H866.8ZM916.74 680.63H992.71V699.03H916.74ZM1000.48 680.63H1068.07V699.03H1000.48ZM1075.84 680.63H1151.81V699.03H1075.84ZM1159.58 680.63H1185V699.03H1159.58ZM866.8 701.58H1185V719.98H866.8ZM866.8 722.52H908.97V740.92H866.8ZM916.74 722.52H992.71V740.92H916.74ZM1000.48 722.52H1068.07V740.92H1000.48ZM1075.84 722.52H1151.81V740.92H1075.84ZM1159.58 722.52H1185V740.92H1159.58ZM866.8 743.47H1185V761.87H866.8ZM866.8 764.41H908.97V782.81H866.8ZM916.74 764.41H992.71V782.81H916.74ZM1000.48 764.41H1068.07V782.81H1000.48ZM1075.84 764.41H1151.81V782.81H1075.84ZM1159.58 764.41H1185V782.81H1159.58ZM866.8 785.36H1185V803.76H866.8ZM866.8 806.3H908.97V824.7H866.8ZM916.74 806.3H992.71V824.7H916.74ZM1000.48 806.3H1068.07V824.7H1000.48ZM1075.84 806.3H1151.81V824.7H1075.84ZM1159.58 806.3H1185V824.7H1159.58ZM866.8 827.25H1185V845.65H866.8ZM866.8 848.19H908.97V866.59H866.8ZM916.74 848.19H992.71V866.59H916.74ZM1000.48 848.19H1068.07V866.59H1000.48ZM1075.84 848.19H1151.81V866.59H1075.84ZM1159.58 848.19H1185V866.59H1159.58Z"/>
<path fill="#00ff00" d="M875.17 617.8V636.2H883.55ZM883.55 617.8V636.2H891.92ZM1143.13 617.8V636.2H1151.51ZM917.04 638.75V657.14H925.42ZM925.42 638.75H933.79V657.14H925.42ZM866.8 659.69V678.09H875.17ZM883.55 659.69V678.09H891.92ZM875.17 680.63V699.03H883.55ZM917.04 680.63V699.03H925.42ZM933.79 680.63H942.16V699.03H933.79ZM866.8 701.58V719.98H875.17ZM875.17 701.58V719.98H883.55ZM883.55 701.58V719.98H891.92ZM1159.88 701.58V719.98H1168.25ZM1176.63 701.58V719.98H1185ZM866.8 722.52V740.92H875.17ZM875.17 722.52V740.92H883.55ZM883.55 722.52H891.92V740.92H883.55ZM891.92 722.52H900.29V740.92H891.92ZM917.04 722.52H925.42V740.92H917.04ZM925.42 722.52H933.79V740.92H925.42ZM917.04 764.41V782.81H925.42ZM925.42 764.41V782.81H933.79ZM933.79 764.41H942.16V782.81H933.79ZM942.16 764.41V782.81H950.54ZM925.42 848.19H933.79V866.59H925.42Z"/>
<path fill="#0000ff" d="M883.55 764.41H891.92V782.81Z"/>
<path fill="#ff0000" d="M866.8 617.8V636.2H875.17Z"/>
<path fill="#fff" d="M1280.1 617.8H1587.2V636.2H1280.1ZM1280.1 638.75H1324.27V657.14H1280.1ZM1329.16 638.75H1401.05V657.14H1329.16ZM1405.93 638.75H1477.82V657.14H1405.93ZM1482.71 638.75H1554.6V657.14H1482.71ZM1559.48 638.75H1587.2V657.14H1559.48ZM1280.1 659.69H1587.2V678.09H1280.1ZM1280.1 680.63H1324.27V699.03H1280.1ZM1329.16 680.63H1401.05V699.03H1329.16ZM1405.93 680.63H1477.82V699.03H1405.93ZM1482.71 680.63H1554.6V699.03H1482.71ZM1559.48 680.63H1587.2V699.03H1559.48ZM1280.1 701.58H1587.2V719.98H1280.1ZM1280.1 722.52H1324.27V740.92H1280.1ZM1329.16 722.52H1401.05V740.92H1329.16ZM1405.93 722.52H1477.82V740.92H1405.93ZM1482.71 722.52H1554.6V740.92H1482.71ZM1559.48 722.52H1587.2V740.92H1559.48ZM1280.1 743.47H1587.2V761.87H1280.1ZM1280.1 764.41H1324.27V782.81H1280.1ZM1329.16 764.41H1401.05V782.81H1329.16ZM1405.93 764.41H1477.82V782.81H1405.93ZM1482.71 764.41H1554.6V782.81H1482.71ZM1559.48 764.41H1587.2V782.81H1559.48ZM1280.1 785.36H1587.2V803.76H1280.1ZM1280.1 806.3H1324.27V824.7H1280.1ZM1329.16 806.3H1401.05V824.7H1329.16ZM1405.93 806.3H1477.82V824.7H1405.93ZM1482.71 806.3H1554.6V824.7H1482.71ZM1559.48 806.3H1587.2V824.7H1559.48ZM1280.1 827.25H1587.2V845.65H1280.1ZM1280.1 848.19H1324.27V866.59H1280.1ZM1329.16 848.19H1401.05V866.59H1329.16ZM1405.93 848.19H1477.82V866.59H1405.93ZM1482.71 848.19H1554.6V866.59H1482.71ZM1559.48 848.19H1587.2V866.59H1559.48Z"/>
<path fill="#00ff00" d="M1340.42 680.63H1345.91V699.03H1340.42ZM1280.1 764.41H1285.58V782.81H1280.1ZM1499.46 827.25H1504.94V845.65H1499.46Z"/>
<path fill="#ff0000" d="M1340.42 638.75H1345.91V657.14H1340.42ZM1345.91 638.75H1351.39V657.14H1345.91ZM1345.91 680.63H1351.39V699.03H1345.91ZM1340.42 722.52H1345.91V740.92H1340.42ZM1345.91 722.52H1351.39V740.92H1345.91ZM1493.97 743.47H1499.46V761.87H1493.97ZM1499.46 743.47H1504.94V761.87H1499.46ZM1291.07 764.41H1296.55V782.81H1291.07ZM1493.97 785.36H1499.46V803.76H1493.97ZM1499.46 785.36H1504.94V803.76H1499.46ZM1280.1 806.3H1285.58V824.7H1280.1ZM1291.07 806.3H1296.55V824.7H1291.07ZM1493.97 827.25H1499.46V845.65H1493.97ZM1280.1 848.19H1285.58V866.59H1280.1ZM1291.07 848.19H1296.55V866.59H1291.07Z"/>
<path fill="#fff" d="M847.9 951.8H892.77V970.2H847.9ZM903.32 951.8H970.78V970.2H903.32ZM981.32 951.8H1059.92V970.2H981.32ZM1070.47 951.8H1137.93V970.2H1070.47ZM1148.47 951.8H1182.2V970.2H1148.47ZM847.9 972.75H1182.2V991.14H847.9ZM847.9 993.69H892.77V1012.09H847.9ZM903.32 993.69H970.78V1012.09H903.32ZM981.32 993.69H1059.92V1012.09H981.32ZM1070.47 993.69H1137.93V1012.09H1070.47ZM1148.47 993.69H1182.2V1012.09H1148.47ZM847.9 1014.63H1182.2V1033.04H847.9ZM847.9 1035.58H892.77V1053.98H847.9ZM903.32 1035.58H970.78V1053.98H903.32ZM981.32 1035.58H1059.92V1053.98H981.32ZM1070.47 1035.58H1137.93V1053.98H1070.47ZM1148.47 1035.58H1182.2V1053.98H1148.47ZM847.9 1056.52H1182.2V1074.92H847.9ZM847.9 1077.47H892.77V1095.87H847.9ZM903.32 1077.47H970.78V1095.87H903.32ZM981.32 1077.47H1059.92V1095.87H981.32ZM1070.47 1077.47H1137.93V1095.87H1070.47ZM1148.47 1077.47H1182.2V1095.87H1148.47ZM847.9 1098.41H1182.2V1116.82H847.9ZM847.9 1119.36H892.77V1137.76H847.9ZM903.32 1119.36H970.78V1137.76H903.32ZM981.32 1119.36H1059.92V1137.76H981.32ZM1070.47 1119.36H1137.93V1137.76H1070.47ZM1148.47 1119.36H1182.2V1137.76H1148.47ZM847.9 1140.3H1182.2V1158.7H847.9ZM847.9 1161.25H892.77V1179.65H847.9ZM903.32 1161.25H970.78V1179.65H903.32ZM981.32 1161.25H1059.92V1179.65H981.32ZM1070.47 1161.25H1137.93V1179.65H1070.47ZM1148.47 1161.25H1182.2V1179.65H1148.47ZM847.9 1182.19H1182.2V1200.6H847.9Z"/>
<path fill="#00ff00" d="M859.04 951.8H870.19V970.2H859.04ZM870.19 951.8H881.33V970.2H870.19ZM881.33 951.8H892.47V970.2H881.33ZM903.62 951.8H914.76V970.2ZM914.76 951.8H925.9V970.2ZM925.9 951.8H937.05V970.2ZM937.05 951.8H948.19V970.2ZM948.19 951.8V970.2H959.33ZM1081.91 951.8V970.2H1093.05ZM1115.34 951.8V970.2H1126.48ZM1126.48 951.8H1137.63V970.2ZM1159.91 951.8H1171.06V970.2ZM1171.06 951.8H1182.2V970.2ZM859.04 972.75H870.19V991.14H859.04ZM870.19 972.75H881.33V991.14H870.19ZM881.33 972.75V991.14H892.47ZM925.9 972.75H937.05V991.14H925.9ZM937.05 972.75H948.19V991.14H937.05ZM948.19 972.75H959.33V991.14H948.19ZM1137.63 972.75H1148.77V991.14H1137.63ZM1148.77 972.75H1159.91V991.14H1148.77ZM1159.91 972.75H1171.06V991.14H1159.91ZM859.04 993.69V1012.09H870.19ZM870.19 993.69H881.33V1012.09ZM881.33 993.69V1012.09H892.47ZM903.62 993.69H914.76V1012.09ZM914.76 993.69H925.9V1012.09ZM948.19 993.69H959.33V1012.09ZM1081.91 993.69V1012.09H1093.05ZM1093.05 993.69V1012.09H1104.2ZM1171.06 993.69V1012.09H1182.2ZM847.9 1035.58H859.04V1053.98ZM881.33 1035.58H892.47V1053.98ZM903.62 1035.58H914.76V1053.98ZM914.76 1035.58H925.9V1053.98ZM925.9 1035.58H937.05V1053.98ZM959.33 1035.58V1053.98H970.48ZM992.76 1035.58V1053.98H1003.91ZM1104.2 1035.58V1053.98H1115.34ZM1115.34 1035.58V1053.98H1126.48ZM847.9 1056.52H859.04V1074.92H847.9ZM859.04 1056.52H870.19V1074.92H859.04ZM881.33 1056.52H892.47V1074.92H881.33ZM892.47 1056.52H903.62V1074.92H892.47ZM903.62 1056.52V1074.92H914.76ZM925.9 1056.52H937.05V1074.92H925.9ZM948.19 1056.52V1074.92H959.33ZM1148.77 1056.52H1159.91V1074.92H1148.77ZM1159.91 1056.52H1171.06V1074.92H1159.91ZM948.19 1077.47V1095.87H959.33ZM948.19 1119.36V1137.76H959.33ZM948.19 1161.25V1179.65H959.33Z"/>
<path fill="#0000ff" d="M847.9 951.8V970.2H859.04ZM903.62 951.8V970.2H914.76ZM914.76 951.8V970.2H925.9ZM925.9 951.8V970.2H937.05ZM937.05 951.8V970.2H948.19ZM1126.48 951.8V970.2H1137.63ZM1148.77 951.8V970.2H1159.91ZM1159.91 951.8V970.2H1171.06ZM1171.06 951.8V970.2H1182.2ZM847.9 972.75H859.04V991.14H847.9ZM870.19 993.69V1012.09H881.33ZM903.62 993.69V1012.09H914.76ZM914.76 993.69V1012.09H925.9ZM925.9 993.69H937.05V1012.09H925.9ZM937.05 993.69H948.19V1012.09H937.05ZM948.19 993.69V1012.09H959.33ZM1115.34 993.69V1012.09H1126.48ZM1126.48 993.69V1012.09H1137.63ZM1148.77 993.69V1012.09H1159.91ZM1159.91 993.69V1012.09H1171.06ZM847.9 1035.58V1053.98H859.04ZM859.04 1035.58H870.19V1053.98H859.04ZM870.19 1035.58V1053.98H881.33ZM881.33 1035.58V1053.98H892.47ZM903.62 1035.58V1053.98H914.76ZM914.76 1035.58V1053.98H925.9ZM925.9 1035.58V1053.98H937.05ZM937.05 1035.58V1053.98H948.19ZM948.19 1035.58H959.33V1053.98H948.19ZM1126.48 1035.58H1137.63V1053.98H1126.48ZM1148.77 1035.58V1053.98H1159.91ZM1159.91 1035.58V1053.98H1171.06ZM1171.06 1035.58V1053.98H1182.2ZM981.62 1056.52H992.76V1074.92ZM959.33 1161.25V1179.65H970.48ZM1026.19 1161.25H1037.34V1179.65Z"/>
<path fill="#ff0000" d="M948.19 951.8H959.33V970.2ZM981.62 972.75H992.76V991.14ZM847.9 993.69V1012.09H859.04ZM847.9 1014.63V1033.04H859.04ZM925.9 1014.63H937.05V1033.04H925.9ZM981.62 1014.63H992.76V1033.04ZM959.33 1077.47V1095.87H970.48ZM1026.19 1077.47H1037.34V1095.87ZM959.33 1119.36V1137.76H970.48ZM1026.19 1119.36H1037.34V1137.76Z"/>
<path fill="#fff" d="M1280.9 951.8H1367.45V970.2H1280.9ZM1373.49 951.8H1520.05V970.2H1373.49ZM1526.09 951.8H1586.1V970.2H1526.09ZM1280.9 972.75H1586.1V991.14H1280.9ZM1280.9 993.69H1367.45V1012.09H1280.9ZM1373.49 993.69H1520.05V1012.09H1373.49ZM1526.09 993.69H1586.1V1012.09H1526.09ZM1280.9 1014.63H1586.1V1033.04H1280.9ZM1280.9 1035.58H1367.45V1053.98H1280.9ZM1373.49 1035.58H1520.05V1053.98H1373.49ZM1526.09 1035.58H1586.1V1053.98H1526.09ZM1280.9 1056.52H1586.1V1074.92H1280.9ZM1280.9 1077.47H1367.45V1095.87H1280.9ZM1373.49 1077.47H1520.05V1095.87H1373.49ZM1526.09 1077.47H1586.1V1095.87H1526.09ZM1280.9 1098.41H1586.1V1116.82H1280.9ZM1280.9 1119.36H1367.45V1137.76H1280.9ZM1373.49 1119.36H1520.05V1137.76H1373.49ZM1526.09 1119.36H1586.1V1137.76H1526.09ZM1280.9 1140.3H1586.1V1158.7H1280.9ZM1280.9 1161.25H1367.45V1179.65H1280.9ZM1373.49 1161.25H1520.05V1179.65H1373.49ZM1526.09 1161.25H1586.1V1179.65H1526.09ZM1280.9 1182.19H1586.1V1200.6H1280.9Z"/>
<path fill="#00ff00" d="M1280.9 951.8H1287.53V970.2H1280.9ZM1287.53 951.8H1294.17V970.2H1287.53ZM1280.9 993.69H1287.53V1012.09H1280.9ZM1287.53 993.69H1294.17V1012.09H1287.53ZM1280.9 1035.58H1287.53V1053.98H1280.9ZM1294.17 1035.58H1300.8V1053.98H1294.17ZM1539.66 1119.36H1546.29V1137.76H1539.66ZM1546.29 1119.36H1552.93V1137.76H1546.29ZM1552.93 1119.36H1559.56V1137.76H1552.93ZM1566.2 1119.36H1572.83V1137.76H1566.2ZM1572.83 1119.36H1579.47V1137.76H1572.83ZM1539.66 1140.3H1546.29V1158.7H1539.66ZM1280.9 1161.25H1287.53V1179.65H1280.9ZM1287.53 1161.25H1294.17V1179.65H1287.53ZM1539.66 1161.25H1546.29V1179.65H1539.66ZM1546.29 1161.25H1552.93V1179.65H1546.29ZM1552.93 1161.25H1559.56V1179.65H1552.93ZM1566.2 1161.25H1572.83V1179.65H1566.2ZM1572.83 1161.25H1579.47V1179.65H1572.83ZM1579.47 1161.25H1586.1V1179.65H1579.47ZM1533.02 1182.19H1539.66V1200.6H1533.02ZM1539.66 1182.19H1546.29V1200.6H1539.66ZM1546.29 1182.19H1552.93V1200.6H1546.29ZM1552.93 1182.19H1559.56V1200.6H1552.93ZM1566.2 1182.19H1572.83V1200.6H1566.2Z"/>
<path fill="#ff0000" d="M1294.17 951.8H1300.8V970.2H1294.17ZM1300.8 951.8H1307.44V970.2H1300.8ZM1287.53 972.75H1294.17V991.14H1287.53ZM1300.8 972.75H1307.44V991.14H1300.8ZM1294.17 993.69H1300.8V1012.09H1294.17ZM1300.8 993.69H1307.44V1012.09H1300.8ZM1287.53 1014.63H1294.17V1033.04H1287.53ZM1300.8 1014.63H1307.44V1033.04H1300.8ZM1287.53 1035.58H1294.17V1053.98H1287.53ZM1300.8 1035.58H1307.44V1053.98H1300.8ZM1287.53 1056.52H1294.17V1074.92H1287.53ZM1300.8 1056.52H1307.44V1074.92H1300.8ZM1539.66 1077.47H1546.29V1095.87H1539.66ZM1546.29 1077.47H1552.93V1095.87H1546.29ZM1552.93 1077.47H1559.56V1095.87H1552.93ZM1566.2 1077.47H1572.83V1095.87H1566.2ZM1572.83 1077.47H1579.47V1095.87H1572.83ZM1579.47 1077.47H1586.1V1095.87H1579.47ZM1533.02 1098.41H1539.66V1116.82H1533.02ZM1539.66 1098.41H1546.29V1116.82H1539.66ZM1546.29 1098.41H1552.93V1116.82H1546.29ZM1552.93 1098.41H1559.56V1116.82H1552.93ZM1579.47 1119.36H1586.1V1137.76H1579.47ZM1533.02 1140.3H1539.66V1158.7H1533.02ZM1546.29 1140.3H1552.93V1158.7H1546.29ZM1552.93 1140.3H1559.56V1158.7H1552.93Z"/>
<rect x="1666.8" y="601.9" width="318.2" height="268.2" fill="#fff"/>
<path stroke="#7d99d1" stroke-width="2.3" fill="none" d="M1666.8 623H1985M1666.8 645.57H1985M1666.8 668.14H1985M1666.8 690.71H1985M1666.8 713.28H1985M1666.8 735.85H1985M1666.8 758.42H1985M1666.8 780.99H1985M1666.8 803.56H1985M1666.8 826.13H1985M1666.8 848.7H1985"/>
<rect x="2067" y="601.9" width="319" height="268.2" fill="#fff"/>
<path stroke="#7d99d1" stroke-width="2.3" fill="none" d="M2067 623H2386M2067 645.57H2386M2067 668.14H2386M2067 690.71H2386M2067 713.28H2386M2067 735.85H2386M2067 758.42H2386M2067 780.99H2386M2067 803.56H2386M2067 826.13H2386M2067 848.7H2386"/>
<rect x="2469.7" y="601.9" width="317.2" height="268.2" fill="#fff"/>
<path stroke="#7d99d1" stroke-width="2.3" fill="none" d="M2469.7 623H2786.9M2469.7 645.57H2786.9M2469.7 668.14H2786.9M2469.7 690.71H2786.9M2469.7 713.28H2786.9M2469.7 735.85H2786.9M2469.7 758.42H2786.9M2469.7 780.99H2786.9M2469.7 803.56H2786.9M2469.7 826.13H2786.9M2469.7 848.7H2786.9"/>
<rect x="1666.8" y="935.9" width="318.2" height="268" fill="#fff"/>
<path stroke="#7d99d1" stroke-width="2.3" fill="none" d="M1666.8 957H1985M1666.8 979.57H1985M1666.8 1002.14H1985M1666.8 1024.71H1985M1666.8 1047.28H1985M1666.8 1069.85H1985M1666.8 1092.42H1985M1666.8 1114.99H1985M1666.8 1137.56H1985M1666.8 1160.13H1985M1666.8 1182.7H1985"/>
<rect x="2067" y="935.9" width="319" height="268" fill="#fff"/>
<path fill="#00ff00" d="M2303.3 957H2309.2V979.57H2303.3ZM2309.2 957H2315.11V979.57H2309.2ZM2315.11 957H2321.02V979.57H2315.11ZM2326.93 957H2332.83V979.57H2326.93ZM2338.74 957H2344.65V979.57H2338.74ZM2350.56 957H2356.46V979.57H2350.56ZM2309.2 979.57H2315.11V1002.14H2309.2ZM2321.02 979.57H2326.93V1002.14H2321.02Z"/>
<path stroke="#7d99d1" stroke-width="2.3" fill="none" d="M2067 957H2386M2067 979.57H2386M2067 1002.14H2386M2067 1024.71H2386M2067 1047.28H2386M2067 1069.85H2386M2067 1092.42H2386M2067 1114.99H2386M2067 1137.56H2386M2067 1160.13H2386M2067 1182.7H2386"/>
<rect x="2469.7" y="935.9" width="317.2" height="268" fill="#fff"/>
<path stroke="#7d99d1" stroke-width="2.3" fill="none" d="M2469.7 957H2786.9M2469.7 979.57H2786.9M2469.7 1002.14H2786.9M2469.7 1024.71H2786.9M2469.7 1047.28H2786.9M2469.7 1069.85H2786.9M2469.7 1092.42H2786.9M2469.7 1114.99H2786.9M2469.7 1137.56H2786.9M2469.7 1160.13H2786.9M2469.7 1182.7H2786.9"/>
<path stroke="#000" stroke-width="3" fill="none" d="M2896.5 404.2V268.7"/>
<path fill="#000" d="M2896.5 243.9L2882.3 268.7L2910.7 268.7Z"/>
<path stroke="#000" stroke-width="3" fill="none" d="M2898 402.7H2809.6"/>
<path fill="#000" d="M2784.8 402.7L2809.6 388.6L2809.6 416.8Z"/>
<text x="2910" y="244.4" font-size="58">x</text>
<text x="2786" y="383" font-size="58">y</text>
<path stroke="#000" stroke-width="3.2" fill="none" d="M2786.3 1205.5V936"/>
<path fill="#000" d="M2786.3 909.7L2771.7 936L2800.9 936Z"/>
<path stroke="#000" stroke-width="3.2" fill="none" d="M2787.9 1069.5H2468"/>
<path fill="#000" d="M2442.1 1069.5L2468 1055.7L2468 1083.3Z"/>
<text x="2816" y="916.4" font-size="58">z</text>
<text x="2428.6" y="1061" font-size="60" class="s">&#934;</text>
<rect x="3006" y="49.4" width="50.5" height="1479" fill="url(#pal)"/>
<path stroke="#000" stroke-width="1" fill="none" shape-rendering="crispEdges" d="M2965.3 49.4H3056.5M3011 108.56H3056.5M3011 167.72H3056.5M3011 226.88H3056.5M3011 286.04H3056.5M2965.3 345.2H3056.5M3011 404.36H3056.5M3011 463.52H3056.5M3011 522.68H3056.5M3011 581.84H3056.5M2965.3 641H3056.5M3011 700.16H3056.5M3011 759.32H3056.5M3011 818.48H3056.5M3011 877.64H3056.5M2965.3 936.8H3056.5M3011 995.96H3056.5M3011 1055.12H3056.5M3011 1114.28H3056.5M3011 1173.44H3056.5M2965.3 1232.6H3056.5M3011 1291.76H3056.5M3011 1350.92H3056.5M3011 1410.08H3056.5M3011 1469.24H3056.5M2965.3 1528.4H3056.5M3006 344H3056.5M3006 638.6H3056.5M3006 933.2H3056.5M3006 1227.8H3056.5M3006 1522.4H3056.5M3056.5 49.4V1528.4"/>
<text x="3071.6" y="60" font-size="29">4</text>
<text x="3071.6" y="355.8" font-size="29">3.6</text>
<text x="3071.6" y="651.6" font-size="29">3.2</text>
<text x="3071.6" y="947.4" font-size="29">2.8</text>
<text x="3071.6" y="1243.2" font-size="29">2.4</text>
<text x="3071.6" y="1539" font-size="29">2</text>
</svg></body></html>
